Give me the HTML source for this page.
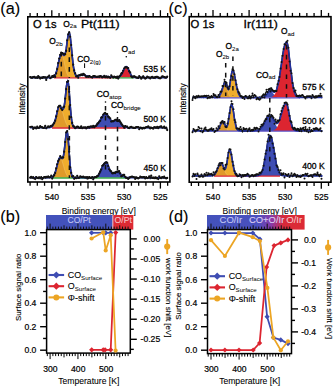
<!DOCTYPE html>
<html><head><meta charset="utf-8"><style>
html,body{margin:0;padding:0;background:#fff;width:335px;height:387px;overflow:hidden;}
svg{display:block;font-family:"Liberation Sans",sans-serif;}
</style></head><body>
<svg width="335" height="387" viewBox="0 0 335 387">
<defs><linearGradient id="gd" x1="207" x2="304.6" y1="0" y2="0" gradientUnits="userSpaceOnUse"><stop offset="0" stop-color="#4352bb"/><stop offset="0.52" stop-color="#4a50bf"/><stop offset="0.66" stop-color="#8a3aa8"/><stop offset="0.78" stop-color="#d82a3a"/><stop offset="1" stop-color="#dd2a33"/></linearGradient></defs><rect width="335" height="387" fill="#fff"/>
<path d="M52.8,77.6 L52.8,77.21 L53.3,76.99 L53.8,76.65 L54.3,76.17 L54.8,75.51 L55.3,74.63 L55.8,73.48 L56.3,72.06 L56.8,70.35 L57.3,68.36 L57.8,66.16 L58.3,63.81 L58.8,61.44 L59.3,59.18 L59.8,57.15 L60.3,55.5 L60.8,54.33 L61.3,53.68 L61.8,53.54 L62.3,53.83 L62.8,54.4 L63.3,55.02 L63.8,55.44 L64.3,55.42 L64.8,54.73 L65.3,53.22 L65.8,50.87 L66.3,47.79 L66.8,44.21 L67.3,40.51 L67.8,37.12 L68.3,34.49 L68.8,33 L69.3,32.9 L69.8,34.38 L70.3,37.37 L70.8,41.57 L71.3,46.58 L71.8,51.92 L72.3,57.17 L72.8,61.98 L73.3,66.12 L73.8,69.5 L74.3,72.11 L74.8,74.02 L75.3,75.36 L75.8,76.25 L76.3,76.82 L76.8,77.17 L76.8,77.6 Z" fill="#efad2d"/>
<path d="M118.7,77.6 L118.7,77.16 L119.2,76.93 L119.7,76.62 L120.2,76.21 L120.7,75.67 L121.2,75.01 L121.7,74.2 L122.2,73.28 L122.7,72.25 L123.2,71.15 L123.7,70.04 L124.2,68.99 L124.7,68.06 L125.2,67.32 L125.7,66.82 L126.2,66.61 L126.7,66.71 L127.2,67.15 L127.7,67.89 L128.2,68.86 L128.7,69.98 L129.2,71.17 L129.7,72.34 L130.2,73.43 L130.7,74.4 L131.2,75.22 L131.7,75.89 L132.2,76.41 L132.7,76.79 L133.2,77.07 L133.2,77.6 Z" fill="#dc2530"/>
<path d="M52.8,77.6 L52.8,77.21 L53.3,76.99 L53.8,76.65 L54.3,76.17 L54.8,75.51 L55.3,74.63 L55.8,73.48 L56.3,72.06 L56.8,70.35 L57.3,68.36 L57.8,66.16 L58.3,63.82 L58.8,61.46 L59.3,59.21 L59.8,57.22 L60.3,55.63 L60.8,54.57 L61.3,54.11 L61.8,54.31 L62.3,55.13 L62.8,56.52 L63.3,58.37 L63.8,60.54 L64.3,62.87 L64.8,65.24 L65.3,67.51 L65.8,69.58 L66.3,71.41 L66.8,72.95 L67.3,74.2 L67.8,75.19 L68.3,75.93 L68.8,76.48 L69.3,76.87 L69.8,77.13 L69.8,77.6 Z" fill="#e09a2a" stroke="#f6d9a0" stroke-width="0.5" stroke-opacity="0.6"/>
<line x1="54" y1="77.9" x2="112" y2="77.9" stroke="#dc2530" stroke-width="1.3"/>
<line x1="112" y1="77.9" x2="134" y2="77.9" stroke="#3aaa48" stroke-width="1.3"/>
<path d="M30.2,76.79 L31.2,77.59 L32.2,77.9 L33.2,77.14 L34.2,76.74 L35.2,77.37 L36.2,77.64 L37.2,77.95 L38.2,76.79 L39.2,76.75 L40.2,77.75 L41.2,77.64 L42.2,78.17 L43.2,77.89 L44.2,77.35 L45.2,77.26 L46.2,78.69 L47.2,77.26 L48.2,77.01 L49.2,76.82 L50.2,77.43 L51.2,77.4 L52.2,77.01 L53.2,76.81 L54.2,76.22 L55.2,74.97 L56.2,72.72 L57.2,68.68 L58.2,63.19 L59.2,59.76 L60.2,54.89 L61.2,53.48 L62.2,52.81 L63.2,54.7 L64.2,54.88 L65.2,53.5 L66.2,49.9 L67.2,41.01 L68.2,35.14 L69.2,31.91 L70.2,36.26 L71.2,45.56 L72.2,55.72 L73.2,65.04 L74.2,71.03 L75.2,73.74 L76.2,75.84 L77.2,75.44 L78.2,76.62 L79.2,75.14 L80.2,75.45 L81.2,74.89 L82.2,75.25 L83.2,74.49 L84.2,75.42 L85.2,75.1 L86.2,76.09 L87.2,76.09 L88.2,76.16 L89.2,75.97 L90.2,76.96 L91.2,76.96 L92.2,77.64 L93.2,76.67 L94.2,77.13 L95.2,77.08 L96.2,76.92 L97.2,76.83 L98.2,76.75 L99.2,76.3 L100.2,76.03 L101.2,76.29 L102.2,76.75 L103.2,77.18 L104.2,76.89 L105.2,76.93 L106.2,76.8 L107.2,76.78 L108.2,76.56 L109.2,76.9 L110.2,77.45 L111.2,76.46 L112.2,76.35 L113.2,77.74 L114.2,76.95 L115.2,77.37 L116.2,77.37 L117.2,76.35 L118.2,78.02 L119.2,77.36 L120.2,75.88 L121.2,75.01 L122.2,73 L123.2,70.4 L124.2,68.65 L125.2,67.24 L126.2,66.91 L127.2,67.27 L128.2,68.66 L129.2,71.62 L130.2,72.84 L131.2,75.41 L132.2,76.75 L133.2,76.72 L134.2,76.3 L135.2,76.87 L136.2,77.5 L137.2,77.66 L138.2,78.17 L139.2,76.9 L140.2,77.4 L141.2,77.72 L142.2,77.32 L143.2,76.22 L144.2,77.8 L145.2,78.56 L146.2,77.9 L147.2,76.94 L148.2,77.19 L149.2,77.51 L150.2,78.64 L151.2,77.71 L152.2,77.46 L153.2,78.18 L154.2,77.36 L155.2,78.33 L156.2,77.06 L157.2,77.16 L158.2,77.76 L159.2,78.11 L160.2,77.73 L161.2,77.55 L162.2,76.49 L163.2,77.04 L164.2,77.09 L165.2,77.13 L166.2,77.69 L167.2,77.23" fill="none" stroke="#111" stroke-width="1.5" stroke-linejoin="round" stroke-linecap="round"/>
<path d="M30.2,77.6 L30.7,77.6 L31.2,77.6 L31.7,77.6 L32.2,77.6 L32.7,77.6 L33.2,77.6 L33.7,77.6 L34.2,77.6 L34.7,77.6 L35.2,77.6 L35.7,77.6 L36.2,77.6 L36.7,77.6 L37.2,77.6 L37.7,77.6 L38.2,77.6 L38.7,77.6 L39.2,77.6 L39.7,77.6 L40.2,77.6 L40.7,77.6 L41.2,77.6 L41.7,77.6 L42.2,77.6 L42.7,77.6 L43.2,77.6 L43.7,77.6 L44.2,77.6 L44.7,77.6 L45.2,77.6 L45.7,77.6 L46.2,77.6 L46.7,77.6 L47.2,77.6 L47.7,77.6 L48.2,77.6 L48.7,77.6 L49.2,77.59 L49.7,77.59 L50.2,77.58 L50.7,77.56 L51.2,77.53 L51.7,77.47 L52.2,77.39 L52.7,77.25 L53.2,77.04 L53.7,76.73 L54.2,76.28 L54.7,75.66 L55.2,74.82 L55.7,73.73 L56.2,72.37 L56.7,70.71 L57.2,68.78 L57.7,66.61 L58.2,64.29 L58.7,61.91 L59.2,59.61 L59.7,57.53 L60.2,55.8 L60.7,54.52 L61.2,53.77 L61.7,53.53 L62.2,53.75 L62.7,54.27 L63.2,54.9 L63.7,55.39 L64.2,55.47 L64.7,54.93 L65.2,53.59 L65.7,51.4 L66.2,48.45 L66.7,44.95 L67.2,41.24 L67.7,37.74 L68.2,34.92 L68.7,33.17 L69.2,32.77 L69.7,33.92 L70.2,36.61 L70.7,40.58 L71.2,45.43 L71.7,50.71 L72.2,55.96 L72.7,60.83 L73.2,65.06 L73.7,68.51 L74.2,71.18 L74.7,73.12 L75.2,74.44 L75.7,75.28 L76.2,75.76 L76.7,75.99 L77.2,76.04 L77.7,76 L78.2,75.89 L78.7,75.75 L79.2,75.59 L79.7,75.44 L80.2,75.3 L80.7,75.18 L81.2,75.08 L81.7,75.01 L82.2,74.97 L82.7,74.97 L83.2,74.99 L83.7,75.04 L84.2,75.13 L84.7,75.23 L85.2,75.36 L85.7,75.5 L86.2,75.66 L86.7,75.82 L87.2,75.98 L87.7,76.14 L88.2,76.29 L88.7,76.44 L89.2,76.56 L89.7,76.68 L90.2,76.78 L90.7,76.86 L91.2,76.93 L91.7,76.98 L92.2,77.02 L92.7,77.04 L93.2,77.06 L93.7,77.06 L94.2,77.06 L94.7,77.04 L95.2,77.03 L95.7,77 L96.2,76.98 L96.7,76.95 L97.2,76.92 L97.7,76.89 L98.2,76.86 L98.7,76.83 L99.2,76.8 L99.7,76.77 L100.2,76.74 L100.7,76.72 L101.2,76.69 L101.7,76.67 L102.2,76.65 L102.7,76.63 L103.2,76.62 L103.7,76.61 L104.2,76.6 L104.7,76.6 L105.2,76.6 L105.7,76.6 L106.2,76.61 L106.7,76.62 L107.2,76.63 L107.7,76.65 L108.2,76.67 L108.7,76.69 L109.2,76.71 L109.7,76.74 L110.2,76.76 L110.7,76.79 L111.2,76.83 L111.7,76.86 L112.2,76.89 L112.7,76.93 L113.2,76.96 L113.7,76.99 L114.2,77.03 L114.7,77.06 L115.2,77.09 L115.7,77.11 L116.2,77.13 L116.7,77.13 L117.2,77.12 L117.7,77.08 L118.2,77 L118.7,76.87 L119.2,76.67 L119.7,76.39 L120.2,75.99 L120.7,75.48 L121.2,74.83 L121.7,74.05 L122.2,73.14 L122.7,72.12 L123.2,71.04 L123.7,69.95 L124.2,68.9 L124.7,67.98 L125.2,67.25 L125.7,66.76 L126.2,66.56 L126.7,66.67 L127.2,67.12 L127.7,67.86 L128.2,68.83 L128.7,69.96 L129.2,71.15 L129.7,72.32 L130.2,73.42 L130.7,74.39 L131.2,75.21 L131.7,75.88 L132.2,76.4 L132.7,76.79 L133.2,77.07 L133.7,77.26 L134.2,77.39 L134.7,77.48 L135.2,77.53 L135.7,77.56 L136.2,77.58 L136.7,77.59 L137.2,77.59 L137.7,77.6 L138.2,77.6 L138.7,77.6 L139.2,77.6 L139.7,77.6 L140.2,77.6 L140.7,77.6 L141.2,77.6 L141.7,77.6 L142.2,77.6 L142.7,77.6 L143.2,77.6 L143.7,77.6 L144.2,77.6 L144.7,77.6 L145.2,77.6 L145.7,77.6 L146.2,77.6 L146.7,77.6 L147.2,77.6 L147.7,77.6 L148.2,77.6 L148.7,77.6 L149.2,77.6 L149.7,77.6 L150.2,77.6 L150.7,77.6 L151.2,77.6 L151.7,77.6 L152.2,77.6 L152.7,77.6 L153.2,77.6 L153.7,77.6 L154.2,77.6 L154.7,77.6 L155.2,77.6 L155.7,77.6 L156.2,77.6 L156.7,77.6 L157.2,77.6 L157.7,77.6 L158.2,77.6 L158.7,77.6 L159.2,77.6 L159.7,77.6 L160.2,77.6 L160.7,77.6 L161.2,77.6 L161.7,77.6 L162.2,77.6 L162.7,77.6 L163.2,77.6 L163.7,77.6 L164.2,77.6 L164.7,77.6 L165.2,77.6 L165.7,77.6 L166.2,77.6 L166.7,77.6 L167.2,77.6" fill="none" stroke="#22309e" stroke-width="1.6"/>
<path d="M30.2,77.22h0.01M31.2,77.63h0.01M32.2,77.71h0.01M33.2,77.21h0.01M34.2,76.97h0.01M35.2,77.84h0.01M36.2,77.38h0.01M37.2,77.82h0.01M38.2,76.04h0.01M39.2,77.64h0.01M40.2,78.55h0.01M41.2,77.54h0.01M42.2,77.9h0.01M43.2,77.21h0.01M44.2,77.44h0.01M45.2,77.38h0.01M46.2,79.89h0.01M47.2,77.39h0.01M48.2,76.58h0.01M49.2,75.48h0.01M50.2,78.2h0.01M51.2,77.5h0.01M52.2,76.13h0.01M53.2,76.91h0.01M54.2,75.33h0.01M55.2,76.88h0.01M56.2,73.33h0.01M57.2,69h0.01M58.2,63.1h0.01M59.2,58.59h0.01M60.2,54.82h0.01M61.2,52.62h0.01M62.2,53.14h0.01M63.2,53.53h0.01M64.2,54.38h0.01M65.2,54.17h0.01M66.2,50.8h0.01M67.2,40.36h0.01M68.2,34.3h0.01M69.2,32.39h0.01M70.2,36.73h0.01M71.2,45.02h0.01M72.2,55.33h0.01M73.2,64.66h0.01M74.2,70.37h0.01M75.2,73.36h0.01M76.2,76.53h0.01M77.2,75.82h0.01M78.2,77.75h0.01M79.2,75.09h0.01M80.2,75.37h0.01M81.2,74.35h0.01M82.2,75.18h0.01M83.2,73.77h0.01M84.2,74.45h0.01M85.2,75.48h0.01M86.2,76.88h0.01M87.2,76.55h0.01M88.2,76.9h0.01M89.2,76.11h0.01M90.2,76.57h0.01M91.2,77.01h0.01M92.2,77.43h0.01M93.2,76.06h0.01M94.2,76.2h0.01M95.2,76.27h0.01M96.2,76.92h0.01M97.2,76.91h0.01M98.2,76.49h0.01M99.2,77.09h0.01M100.2,76.13h0.01M101.2,76.61h0.01M102.2,77.42h0.01M103.2,76.73h0.01M104.2,75.81h0.01M105.2,77.34h0.01M106.2,76.42h0.01M107.2,77.5h0.01M108.2,76.74h0.01M109.2,77.45h0.01M110.2,77.87h0.01M111.2,75.32h0.01M112.2,76.74h0.01M113.2,77.37h0.01M114.2,76.53h0.01M115.2,77.13h0.01M116.2,77.79h0.01M117.2,76.84h0.01M118.2,78.57h0.01M119.2,76.45h0.01M120.2,75.56h0.01M121.2,73.7h0.01M122.2,72.94h0.01M123.2,70.73h0.01M124.2,68.23h0.01M125.2,67.37h0.01M126.2,67.04h0.01M127.2,67.83h0.01M128.2,68.21h0.01M129.2,71.17h0.01M130.2,72.42h0.01M131.2,76.37h0.01M132.2,77.35h0.01M133.2,76.65h0.01M134.2,76.42h0.01M135.2,76.94h0.01M136.2,77.61h0.01M137.2,77.54h0.01M138.2,77.99h0.01M139.2,76.21h0.01M140.2,77.05h0.01M141.2,78.63h0.01M142.2,77.62h0.01M143.2,76.25h0.01M144.2,77.69h0.01M145.2,78.59h0.01M146.2,78.1h0.01M147.2,76.59h0.01M148.2,77.3h0.01M149.2,77.64h0.01M150.2,78.23h0.01M151.2,77.27h0.01M152.2,76.91h0.01M153.2,77.59h0.01M154.2,77.85h0.01M155.2,77.03h0.01M156.2,76.91h0.01M157.2,76.83h0.01M158.2,77.42h0.01M159.2,78.17h0.01M160.2,78.35h0.01M161.2,77.59h0.01M162.2,76.41h0.01M163.2,76.71h0.01M164.2,77.02h0.01M165.2,77.63h0.01M166.2,77.48h0.01M167.2,76.6h0.01" fill="none" stroke="#111" stroke-width="2.2" stroke-linecap="round"/>
<path d="M50.96,127.7 L50.96,127.18 L51.46,126.92 L51.96,126.55 L52.46,126.04 L52.96,125.36 L53.46,124.49 L53.96,123.4 L54.46,122.07 L54.96,120.52 L55.46,118.76 L55.96,116.84 L56.46,114.82 L56.96,112.8 L57.46,110.87 L57.96,109.15 L58.46,107.75 L58.96,106.75 L59.46,106.23 L59.96,106.18 L60.46,106.5 L60.96,107.12 L61.46,107.91 L61.96,108.72 L62.46,109.31 L62.96,109.43 L63.46,108.81 L63.96,107.22 L64.46,104.52 L64.96,100.75 L65.46,96.16 L65.96,91.24 L66.46,86.63 L66.96,83.05 L67.46,81.13 L67.96,81.3 L68.46,83.97 L68.96,88.88 L69.46,95.27 L69.96,102.21 L70.46,108.87 L70.96,114.62 L71.46,119.16 L71.96,122.46 L72.46,124.68 L72.96,126.06 L73.46,126.86 L73.96,127.3 L73.96,127.7 Z" fill="#efad2d"/>
<path d="M92.1,127.7 L92.1,127.34 L92.6,127.24 L93.1,127.1 L93.6,126.94 L94.1,126.73 L94.6,126.49 L95.1,126.2 L95.6,125.86 L96.1,125.46 L96.6,125.01 L97.1,124.49 L97.6,123.92 L98.1,123.28 L98.6,122.6 L99.1,121.86 L99.6,121.08 L100.1,120.27 L100.6,119.45 L101.1,118.63 L101.6,117.82 L102.1,117.05 L102.6,116.34 L103.1,115.69 L103.6,115.14 L104.1,114.68 L104.6,114.35 L105.1,114.13 L105.6,114.05 L106.1,114.13 L106.6,114.4 L107.1,114.86 L107.6,115.46 L108.1,116.18 L108.6,116.98 L109.1,117.81 L109.6,118.63 L110.1,119.41 L110.6,120.1 L111.1,120.68 L111.6,121.13 L112.1,121.44 L112.6,121.6 L113.1,121.64 L113.6,121.55 L114.1,121.37 L114.6,121.13 L115.1,120.85 L115.6,120.57 L116.1,120.33 L116.6,120.15 L117.1,120.05 L117.6,120.05 L118.1,120.19 L118.6,120.49 L119.1,120.93 L119.6,121.5 L120.1,122.15 L120.6,122.86 L121.1,123.57 L121.6,124.26 L122.1,124.91 L122.6,125.49 L123.1,125.99 L123.6,126.41 L124.1,126.75 L124.6,127.01 L125.1,127.22 L125.1,127.7 Z" fill="#3f4db3"/>
<path d="M50.96,127.7 L50.96,127.18 L51.46,126.92 L51.96,126.55 L52.46,126.04 L52.96,125.36 L53.46,124.49 L53.96,123.4 L54.46,122.07 L54.96,120.52 L55.46,118.76 L55.96,116.84 L56.46,114.82 L56.96,112.8 L57.46,110.87 L57.96,109.15 L58.46,107.76 L58.96,106.77 L59.46,106.26 L59.96,106.26 L60.46,106.67 L60.96,107.48 L61.46,108.62 L61.96,110.05 L62.46,111.67 L62.96,113.43 L63.46,115.24 L63.96,117.02 L64.46,118.73 L64.96,120.31 L65.46,121.72 L65.96,122.96 L66.46,124.01 L66.96,124.89 L67.46,125.59 L67.96,126.15 L68.46,126.59 L68.96,126.91 L69.46,127.16 L69.96,127.33 L69.96,127.7 Z" fill="#e09a2a" stroke="#f6d9a0" stroke-width="0.5" stroke-opacity="0.6"/>
<line x1="52" y1="128" x2="126" y2="128" stroke="#dc2530" stroke-width="1.3"/>
<path d="M30.2,126.87 L31.2,126.95 L32.2,126.81 L33.2,128.05 L34.2,127.68 L35.2,127.38 L36.2,128.23 L37.2,127.17 L38.2,127.88 L39.2,127.9 L40.2,126.73 L41.2,126.72 L42.2,127.04 L43.2,127.95 L44.2,128.15 L45.2,126.89 L46.2,128.02 L47.2,127.3 L48.2,127.27 L49.2,127.13 L50.2,127.08 L51.2,125.96 L52.2,125.62 L53.2,124.15 L54.2,122.84 L55.2,120.55 L56.2,117.04 L57.2,111.49 L58.2,107.37 L59.2,106.04 L60.2,105.62 L61.2,108.28 L62.2,109.13 L63.2,108.68 L64.2,106.33 L65.2,98.69 L66.2,87.93 L67.2,81.42 L68.2,81.95 L69.2,91.63 L70.2,105.36 L71.2,116.59 L72.2,123.54 L73.2,126.01 L74.2,126.78 L75.2,128.21 L76.2,127.67 L77.2,127.72 L78.2,126.7 L79.2,127.42 L80.2,127.91 L81.2,126.85 L82.2,128.05 L83.2,127.3 L84.2,127.7 L85.2,127.43 L86.2,127.6 L87.2,128.09 L88.2,127.27 L89.2,128.22 L90.2,126.99 L91.2,126.82 L92.2,127.48 L93.2,126.34 L94.2,126.3 L95.2,126.39 L96.2,125.78 L97.2,123.3 L98.2,123.2 L99.2,122.45 L100.2,120.51 L101.2,118.15 L102.2,116.4 L103.2,115.23 L104.2,113.83 L105.2,113.77 L106.2,113.88 L107.2,114.7 L108.2,116.73 L109.2,117.66 L110.2,118.62 L111.2,121.11 L112.2,120.74 L113.2,121.2 L114.2,121.06 L115.2,120.42 L116.2,119.58 L117.2,119.71 L118.2,121.13 L119.2,120.54 L120.2,122.02 L121.2,124.07 L122.2,125.2 L123.2,126.26 L124.2,127.04 L125.2,126.07 L126.2,126.87 L127.2,127.48 L128.2,127.72 L129.2,128.14 L130.2,127.73 L131.2,127.38 L132.2,127.52 L133.2,127.39 L134.2,127.62 L135.2,127.84 L136.2,127.33 L137.2,127.09 L138.2,127.07 L139.2,128.05 L140.2,128.14 L141.2,128 L142.2,127.93 L143.2,127.92 L144.2,127.5 L145.2,127.83 L146.2,126.97 L147.2,127.4 L148.2,127.13 L149.2,127.86 L150.2,127.21 L151.2,127.45 L152.2,127.7 L153.2,128.18 L154.2,127.1 L155.2,127.03 L156.2,127.91 L157.2,126.95 L158.2,127.73 L159.2,127.21 L160.2,127.45 L161.2,126.59 L162.2,127.86 L163.2,127.25 L164.2,127.05 L165.2,128.54 L166.2,127.86 L167.2,129.25" fill="none" stroke="#111" stroke-width="1.5" stroke-linejoin="round" stroke-linecap="round"/>
<path d="M30.2,127.7 L30.7,127.7 L31.2,127.7 L31.7,127.7 L32.2,127.7 L32.7,127.7 L33.2,127.7 L33.7,127.7 L34.2,127.7 L34.7,127.7 L35.2,127.7 L35.7,127.7 L36.2,127.7 L36.7,127.7 L37.2,127.7 L37.7,127.7 L38.2,127.7 L38.7,127.7 L39.2,127.7 L39.7,127.7 L40.2,127.7 L40.7,127.7 L41.2,127.7 L41.7,127.7 L42.2,127.7 L42.7,127.7 L43.2,127.7 L43.7,127.7 L44.2,127.7 L44.7,127.7 L45.2,127.7 L45.7,127.7 L46.2,127.7 L46.7,127.69 L47.2,127.69 L47.7,127.68 L48.2,127.67 L48.7,127.64 L49.2,127.6 L49.7,127.54 L50.2,127.44 L50.7,127.29 L51.2,127.07 L51.7,126.76 L52.2,126.32 L52.7,125.74 L53.2,124.97 L53.7,123.99 L54.2,122.79 L54.7,121.36 L55.2,119.7 L55.7,117.86 L56.2,115.88 L56.7,113.85 L57.2,111.85 L57.7,110.01 L58.2,108.43 L58.7,107.22 L59.2,106.44 L59.7,106.15 L60.2,106.29 L60.7,106.77 L61.2,107.49 L61.7,108.31 L62.2,109.04 L62.7,109.44 L63.2,109.24 L63.7,108.18 L64.2,106.06 L64.7,102.83 L65.2,98.62 L65.7,93.81 L66.2,88.94 L66.7,84.74 L67.2,81.89 L67.7,80.93 L68.2,82.27 L68.7,86.09 L69.2,91.82 L69.7,98.59 L70.2,105.49 L70.7,111.77 L71.2,116.96 L71.7,120.89 L72.2,123.65 L72.7,125.43 L73.2,126.51 L73.7,127.11 L74.2,127.42 L74.7,127.58 L75.2,127.65 L75.7,127.68 L76.2,127.69 L76.7,127.7 L77.2,127.7 L77.7,127.7 L78.2,127.7 L78.7,127.7 L79.2,127.7 L79.7,127.7 L80.2,127.7 L80.7,127.7 L81.2,127.7 L81.7,127.7 L82.2,127.7 L82.7,127.7 L83.2,127.7 L83.7,127.7 L84.2,127.7 L84.7,127.7 L85.2,127.7 L85.7,127.7 L86.2,127.69 L86.7,127.69 L87.2,127.68 L87.7,127.68 L88.2,127.67 L88.7,127.66 L89.2,127.64 L89.7,127.61 L90.2,127.58 L90.7,127.54 L91.2,127.49 L91.7,127.41 L92.2,127.33 L92.7,127.21 L93.2,127.07 L93.7,126.9 L94.2,126.69 L94.7,126.44 L95.2,126.14 L95.7,125.78 L96.2,125.38 L96.7,124.91 L97.2,124.38 L97.7,123.8 L98.2,123.15 L98.7,122.45 L99.2,121.71 L99.7,120.92 L100.2,120.11 L100.7,119.29 L101.2,118.47 L101.7,117.67 L102.2,116.91 L102.7,116.2 L103.2,115.57 L103.7,115.04 L104.2,114.61 L104.7,114.29 L105.2,114.11 L105.7,114.05 L106.2,114.17 L106.7,114.48 L107.2,114.97 L107.7,115.6 L108.2,116.34 L108.7,117.15 L109.2,117.98 L109.7,118.79 L110.2,119.55 L110.7,120.22 L111.2,120.78 L111.7,121.2 L112.2,121.48 L112.7,121.62 L113.2,121.63 L113.7,121.52 L114.2,121.33 L114.7,121.07 L115.2,120.79 L115.7,120.52 L116.2,120.29 L116.7,120.12 L117.2,120.04 L117.7,120.06 L118.2,120.24 L118.7,120.57 L119.2,121.04 L119.7,121.63 L120.2,122.29 L120.7,123 L121.2,123.71 L121.7,124.4 L122.2,125.03 L122.7,125.59 L123.2,126.08 L123.7,126.48 L124.2,126.81 L124.7,127.06 L125.2,127.25 L125.7,127.4 L126.2,127.5 L126.7,127.57 L127.2,127.62 L127.7,127.65 L128.2,127.67 L128.7,127.68 L129.2,127.69 L129.7,127.69 L130.2,127.7 L130.7,127.7 L131.2,127.7 L131.7,127.7 L132.2,127.7 L132.7,127.7 L133.2,127.7 L133.7,127.7 L134.2,127.7 L134.7,127.7 L135.2,127.7 L135.7,127.7 L136.2,127.7 L136.7,127.7 L137.2,127.7 L137.7,127.7 L138.2,127.7 L138.7,127.7 L139.2,127.7 L139.7,127.7 L140.2,127.7 L140.7,127.7 L141.2,127.7 L141.7,127.7 L142.2,127.7 L142.7,127.7 L143.2,127.7 L143.7,127.7 L144.2,127.7 L144.7,127.7 L145.2,127.7 L145.7,127.7 L146.2,127.7 L146.7,127.7 L147.2,127.7 L147.7,127.7 L148.2,127.7 L148.7,127.7 L149.2,127.7 L149.7,127.7 L150.2,127.7 L150.7,127.7 L151.2,127.7 L151.7,127.7 L152.2,127.7 L152.7,127.7 L153.2,127.7 L153.7,127.7 L154.2,127.7 L154.7,127.7 L155.2,127.7 L155.7,127.7 L156.2,127.7 L156.7,127.7 L157.2,127.7 L157.7,127.7 L158.2,127.7 L158.7,127.7 L159.2,127.7 L159.7,127.7 L160.2,127.7 L160.7,127.7 L161.2,127.7 L161.7,127.7 L162.2,127.7 L162.7,127.7 L163.2,127.7 L163.7,127.7 L164.2,127.7 L164.7,127.7 L165.2,127.7 L165.7,127.7 L166.2,127.7 L166.7,127.7 L167.2,127.7" fill="none" stroke="#22309e" stroke-width="1.6"/>
<path d="M30.2,127.09h0.01M31.2,126.76h0.01M32.2,126.86h0.01M33.2,128.93h0.01M34.2,127.66h0.01M35.2,127.63h0.01M36.2,128.51h0.01M37.2,126.67h0.01M38.2,127.95h0.01M39.2,127.62h0.01M40.2,126.04h0.01M41.2,127.2h0.01M42.2,127.4h0.01M43.2,127.99h0.01M44.2,127.65h0.01M45.2,125.78h0.01M46.2,128.29h0.01M47.2,127.24h0.01M48.2,126.34h0.01M49.2,127.09h0.01M50.2,126.24h0.01M51.2,125.94h0.01M52.2,125.7h0.01M53.2,124.35h0.01M54.2,122.96h0.01M55.2,120.64h0.01M56.2,116.42h0.01M57.2,111.27h0.01M58.2,107.09h0.01M59.2,105.91h0.01M60.2,105.77h0.01M61.2,108.62h0.01M62.2,110.03h0.01M63.2,107.26h0.01M64.2,106.55h0.01M65.2,98.58h0.01M66.2,89.18h0.01M67.2,81.94h0.01M68.2,81.04h0.01M69.2,91.85h0.01M70.2,105.07h0.01M71.2,117.14h0.01M72.2,122.96h0.01M73.2,125.96h0.01M74.2,126.7h0.01M75.2,128.15h0.01M76.2,127.35h0.01M77.2,126.71h0.01M78.2,126.96h0.01M79.2,127.97h0.01M80.2,127.87h0.01M81.2,126.29h0.01M82.2,128.16h0.01M83.2,127.62h0.01M84.2,127.6h0.01M85.2,127.42h0.01M86.2,128.38h0.01M87.2,127.47h0.01M88.2,126.96h0.01M89.2,127.17h0.01M90.2,126.61h0.01M91.2,126.41h0.01M92.2,126.95h0.01M93.2,125.96h0.01M94.2,127.29h0.01M95.2,126.28h0.01M96.2,125.72h0.01M97.2,124.51h0.01M98.2,123.17h0.01M99.2,121.49h0.01M100.2,120.73h0.01M101.2,117.63h0.01M102.2,117.31h0.01M103.2,114.54h0.01M104.2,113.51h0.01M105.2,112.89h0.01M106.2,113.93h0.01M107.2,114.14h0.01M108.2,116.69h0.01M109.2,117.46h0.01M110.2,118.29h0.01M111.2,121.62h0.01M112.2,121.26h0.01M113.2,121.24h0.01M114.2,120.56h0.01M115.2,119.83h0.01M116.2,119.73h0.01M117.2,121.03h0.01M118.2,120.88h0.01M119.2,120.1h0.01M120.2,121.64h0.01M121.2,123.47h0.01M122.2,124.67h0.01M123.2,126.15h0.01M124.2,127.83h0.01M125.2,126.07h0.01M126.2,126.58h0.01M127.2,126.59h0.01M128.2,127.84h0.01M129.2,128.12h0.01M130.2,127.06h0.01M131.2,126.78h0.01M132.2,127.5h0.01M133.2,127.95h0.01M134.2,127.97h0.01M135.2,127.95h0.01M136.2,127.15h0.01M137.2,127.27h0.01M138.2,127.07h0.01M139.2,129.24h0.01M140.2,127.52h0.01M141.2,127.79h0.01M142.2,128.63h0.01M143.2,127.77h0.01M144.2,128.28h0.01M145.2,127.81h0.01M146.2,127.05h0.01M147.2,127.19h0.01M148.2,126.37h0.01M149.2,127.33h0.01M150.2,128.43h0.01M151.2,127.8h0.01M152.2,128.03h0.01M153.2,128.7h0.01M154.2,127.42h0.01M155.2,127.59h0.01M156.2,127.76h0.01M157.2,126.82h0.01M158.2,128.27h0.01M159.2,127.02h0.01M160.2,126.72h0.01M161.2,126.47h0.01M162.2,127.56h0.01M163.2,127.59h0.01M164.2,126.65h0.01M165.2,127.95h0.01M166.2,127.67h0.01M167.2,130.11h0.01" fill="none" stroke="#111" stroke-width="2.2" stroke-linecap="round"/>
<path d="M52.22,177.7 L52.22,177.15 L52.72,176.84 L53.22,176.4 L53.72,175.78 L54.22,174.96 L54.72,173.89 L55.22,172.56 L55.72,170.97 L56.22,169.15 L56.72,167.15 L57.22,165.07 L57.72,163.02 L58.22,161.13 L58.72,159.54 L59.22,158.37 L59.72,157.7 L60.22,157.54 L60.72,157.71 L61.22,158.07 L61.72,158.45 L62.22,158.58 L62.72,158.18 L63.22,156.94 L63.72,154.66 L64.22,151.26 L64.72,146.92 L65.22,142.07 L65.72,137.39 L66.22,133.65 L66.72,131.58 L67.22,131.69 L67.72,134.46 L68.22,139.64 L68.72,146.36 L69.22,153.58 L69.72,160.36 L70.22,166.06 L70.72,170.4 L71.22,173.42 L71.72,175.36 L72.22,176.5 L72.72,177.13 L72.72,177.7 Z" fill="#efad2d"/>
<path d="M95,177.7 L95,177.3 L95.5,177.14 L96,176.94 L96.5,176.67 L97,176.34 L97.5,175.92 L98,175.41 L98.5,174.81 L99,174.09 L99.5,173.27 L100,172.35 L100.5,171.34 L101,170.25 L101.5,169.11 L102,167.96 L102.5,166.81 L103,165.72 L103.5,164.73 L104,163.87 L104.5,163.18 L105,162.68 L105.5,162.41 L106,162.38 L106.5,162.69 L107,163.33 L107.5,164.25 L108,165.38 L108.5,166.65 L109,167.95 L109.5,169.22 L110,170.39 L110.5,171.39 L111,172.2 L111.5,172.79 L112,173.17 L112.5,173.36 L113,173.38 L113.5,173.26 L114,173.06 L114.5,172.81 L115,172.55 L115.5,172.32 L116,172.15 L116.5,172.06 L117,172.07 L117.5,172.18 L118,172.36 L118.5,172.63 L119,172.96 L119.5,173.35 L120,173.77 L120.5,174.21 L121,174.66 L121.5,175.09 L122,175.5 L122.5,175.88 L123,176.22 L123.5,176.52 L124,176.77 L124.5,176.98 L125,177.15 L125.5,177.29 L125.5,177.7 Z" fill="#3f4db3"/>
<path d="M52.22,177.7 L52.22,177.15 L52.72,176.84 L53.22,176.4 L53.72,175.78 L54.22,174.96 L54.72,173.89 L55.22,172.56 L55.72,170.97 L56.22,169.15 L56.72,167.15 L57.22,165.07 L57.72,163.02 L58.22,161.13 L58.72,159.56 L59.22,158.41 L59.72,157.79 L60.22,157.74 L60.72,158.14 L61.22,158.95 L61.72,160.1 L62.22,161.54 L62.72,163.18 L63.22,164.93 L63.72,166.71 L64.22,168.44 L64.72,170.07 L65.22,171.55 L65.72,172.84 L66.22,173.95 L66.72,174.86 L67.22,175.6 L67.72,176.18 L68.22,176.62 L68.72,176.95 L69.22,177.19 L69.22,177.7 Z" fill="#e09a2a" stroke="#f6d9a0" stroke-width="0.5" stroke-opacity="0.6"/>
<line x1="52" y1="178" x2="128" y2="178" stroke="#3aaa48" stroke-width="1.3"/>
<path d="M30.2,177.48 L31.2,177.58 L32.2,177.5 L33.2,177.65 L34.2,177.96 L35.2,178.2 L36.2,176.68 L37.2,178.18 L38.2,177.5 L39.2,177.34 L40.2,178.7 L41.2,177.42 L42.2,178.47 L43.2,177.98 L44.2,176.99 L45.2,177.74 L46.2,177.87 L47.2,177.44 L48.2,176.33 L49.2,177.31 L50.2,177.34 L51.2,176.75 L52.2,177.88 L53.2,176.1 L54.2,174.6 L55.2,172.27 L56.2,168.63 L57.2,164.56 L58.2,161.05 L59.2,158.37 L60.2,157.08 L61.2,157.81 L62.2,157.69 L63.2,157.07 L64.2,150.84 L65.2,142.18 L66.2,133.11 L67.2,131.18 L68.2,139.31 L69.2,152.49 L70.2,166.89 L71.2,173.11 L72.2,176.23 L73.2,176.87 L74.2,178.25 L75.2,178.19 L76.2,177.65 L77.2,176.82 L78.2,177.25 L79.2,177.81 L80.2,177.24 L81.2,176.91 L82.2,176.91 L83.2,177.11 L84.2,177.51 L85.2,177.18 L86.2,177.51 L87.2,178.9 L88.2,178.39 L89.2,176.98 L90.2,177.66 L91.2,177.52 L92.2,177.38 L93.2,177.91 L94.2,177.11 L95.2,176.88 L96.2,176.45 L97.2,175.93 L98.2,175.63 L99.2,173.97 L100.2,171.09 L101.2,169.38 L102.2,166.9 L103.2,165.52 L104.2,163.48 L105.2,162.79 L106.2,162.23 L107.2,162.51 L108.2,165.9 L109.2,168.38 L110.2,170.86 L111.2,171.61 L112.2,173.11 L113.2,172.8 L114.2,172.42 L115.2,172.43 L116.2,172.08 L117.2,171.46 L118.2,171.4 L119.2,171.67 L120.2,173.46 L121.2,175.2 L122.2,175.43 L123.2,175.02 L124.2,176.23 L125.2,177.22 L126.2,178.07 L127.2,177.95 L128.2,177.62 L129.2,177.57 L130.2,176.96 L131.2,177.27 L132.2,177.33 L133.2,177.11 L134.2,177.53 L135.2,177.3 L136.2,177.67 L137.2,178.22 L138.2,177.87 L139.2,177.71 L140.2,177.38 L141.2,176.74 L142.2,177.44 L143.2,177.77 L144.2,177 L145.2,178.13 L146.2,177.33 L147.2,177.69 L148.2,177.34 L149.2,176.87 L150.2,178.53 L151.2,176.92 L152.2,177.96 L153.2,177.22 L154.2,177.64 L155.2,177.1 L156.2,177.29 L157.2,177.96 L158.2,178.47 L159.2,177.08 L160.2,177.51 L161.2,177.97 L162.2,177.18 L163.2,177.86 L164.2,177.11 L165.2,177.8 L166.2,177.72 L167.2,178.11" fill="none" stroke="#111" stroke-width="1.5" stroke-linejoin="round" stroke-linecap="round"/>
<path d="M30.2,177.7 L30.7,177.7 L31.2,177.7 L31.7,177.7 L32.2,177.7 L32.7,177.7 L33.2,177.7 L33.7,177.7 L34.2,177.7 L34.7,177.7 L35.2,177.7 L35.7,177.7 L36.2,177.7 L36.7,177.7 L37.2,177.7 L37.7,177.7 L38.2,177.7 L38.7,177.7 L39.2,177.7 L39.7,177.7 L40.2,177.7 L40.7,177.7 L41.2,177.7 L41.7,177.7 L42.2,177.7 L42.7,177.7 L43.2,177.7 L43.7,177.7 L44.2,177.7 L44.7,177.7 L45.2,177.7 L45.7,177.7 L46.2,177.7 L46.7,177.7 L47.2,177.7 L47.7,177.7 L48.2,177.69 L48.7,177.69 L49.2,177.68 L49.7,177.66 L50.2,177.63 L50.7,177.58 L51.2,177.5 L51.7,177.37 L52.2,177.16 L52.7,176.86 L53.2,176.42 L53.7,175.81 L54.2,174.99 L54.7,173.94 L55.2,172.62 L55.7,171.04 L56.2,169.22 L56.7,167.23 L57.2,165.15 L57.7,163.1 L58.2,161.2 L58.7,159.6 L59.2,158.41 L59.7,157.72 L60.2,157.54 L60.7,157.7 L61.2,158.06 L61.7,158.44 L62.2,158.59 L62.7,158.21 L63.2,157.01 L63.7,154.77 L64.2,151.42 L64.7,147.11 L65.2,142.27 L65.7,137.56 L66.2,133.77 L66.7,131.62 L67.2,131.64 L67.7,134.3 L68.2,139.4 L68.7,146.08 L69.2,153.3 L69.7,160.11 L70.2,165.85 L70.7,170.25 L71.2,173.32 L71.7,175.3 L72.2,176.47 L72.7,177.11 L73.2,177.44 L73.7,177.59 L74.2,177.66 L74.7,177.68 L75.2,177.69 L75.7,177.7 L76.2,177.7 L76.7,177.7 L77.2,177.7 L77.7,177.7 L78.2,177.7 L78.7,177.7 L79.2,177.7 L79.7,177.7 L80.2,177.7 L80.7,177.7 L81.2,177.7 L81.7,177.7 L82.2,177.7 L82.7,177.7 L83.2,177.7 L83.7,177.7 L84.2,177.7 L84.7,177.7 L85.2,177.7 L85.7,177.7 L86.2,177.7 L86.7,177.7 L87.2,177.7 L87.7,177.7 L88.2,177.7 L88.7,177.7 L89.2,177.7 L89.7,177.7 L90.2,177.69 L90.7,177.69 L91.2,177.68 L91.7,177.67 L92.2,177.65 L92.7,177.63 L93.2,177.59 L93.7,177.54 L94.2,177.47 L94.7,177.37 L95.2,177.24 L95.7,177.07 L96.2,176.84 L96.7,176.55 L97.2,176.18 L97.7,175.73 L98.2,175.18 L98.7,174.53 L99.2,173.78 L99.7,172.92 L100.2,171.96 L100.7,170.91 L101.2,169.8 L101.7,168.65 L102.2,167.49 L102.7,166.37 L103.2,165.31 L103.7,164.36 L104.2,163.57 L104.7,162.95 L105.2,162.55 L105.7,162.37 L106.2,162.46 L106.7,162.91 L107.2,163.67 L107.7,164.68 L108.2,165.88 L108.7,167.17 L109.2,168.47 L109.7,169.7 L110.2,170.81 L110.7,171.74 L111.2,172.46 L111.7,172.97 L112.2,173.27 L112.7,173.38 L113.2,173.34 L113.7,173.19 L114.2,172.96 L114.7,172.7 L115.2,172.45 L115.7,172.24 L116.2,172.1 L116.7,172.06 L117.2,172.1 L117.7,172.24 L118.2,172.46 L118.7,172.75 L119.2,173.11 L119.7,173.51 L120.2,173.95 L120.7,174.39 L121.2,174.84 L121.7,175.26 L122.2,175.66 L122.7,176.02 L123.2,176.34 L123.7,176.62 L124.2,176.86 L124.7,177.05 L125.2,177.21 L125.7,177.34 L126.2,177.44 L126.7,177.51 L127.2,177.57 L127.7,177.61 L128.2,177.64 L128.7,177.66 L129.2,177.67 L129.7,177.68 L130.2,177.69 L130.7,177.69 L131.2,177.7 L131.7,177.7 L132.2,177.7 L132.7,177.7 L133.2,177.7 L133.7,177.7 L134.2,177.7 L134.7,177.7 L135.2,177.7 L135.7,177.7 L136.2,177.7 L136.7,177.7 L137.2,177.7 L137.7,177.7 L138.2,177.7 L138.7,177.7 L139.2,177.7 L139.7,177.7 L140.2,177.7 L140.7,177.7 L141.2,177.7 L141.7,177.7 L142.2,177.7 L142.7,177.7 L143.2,177.7 L143.7,177.7 L144.2,177.7 L144.7,177.7 L145.2,177.7 L145.7,177.7 L146.2,177.7 L146.7,177.7 L147.2,177.7 L147.7,177.7 L148.2,177.7 L148.7,177.7 L149.2,177.7 L149.7,177.7 L150.2,177.7 L150.7,177.7 L151.2,177.7 L151.7,177.7 L152.2,177.7 L152.7,177.7 L153.2,177.7 L153.7,177.7 L154.2,177.7 L154.7,177.7 L155.2,177.7 L155.7,177.7 L156.2,177.7 L156.7,177.7 L157.2,177.7 L157.7,177.7 L158.2,177.7 L158.7,177.7 L159.2,177.7 L159.7,177.7 L160.2,177.7 L160.7,177.7 L161.2,177.7 L161.7,177.7 L162.2,177.7 L162.7,177.7 L163.2,177.7 L163.7,177.7 L164.2,177.7 L164.7,177.7 L165.2,177.7 L165.7,177.7 L166.2,177.7 L166.7,177.7 L167.2,177.7" fill="none" stroke="#22309e" stroke-width="1.6"/>
<path d="M30.2,177.68h0.01M31.2,176.92h0.01M32.2,177.87h0.01M33.2,177.04h0.01M34.2,178.38h0.01M35.2,179.03h0.01M36.2,177.01h0.01M37.2,177.88h0.01M38.2,178.15h0.01M39.2,177.43h0.01M40.2,178.01h0.01M41.2,177.22h0.01M42.2,179.25h0.01M43.2,177.82h0.01M44.2,177.05h0.01M45.2,177.56h0.01M46.2,176.94h0.01M47.2,177.16h0.01M48.2,176.53h0.01M49.2,177.42h0.01M50.2,177.24h0.01M51.2,175.57h0.01M52.2,178.55h0.01M53.2,176.49h0.01M54.2,175.16h0.01M55.2,172.98h0.01M56.2,168.39h0.01M57.2,164.23h0.01M58.2,161.22h0.01M59.2,159.29h0.01M60.2,156.15h0.01M61.2,157.69h0.01M62.2,157.3h0.01M63.2,157.38h0.01M64.2,151.65h0.01M65.2,142.01h0.01M66.2,132.43h0.01M67.2,131.21h0.01M68.2,139.15h0.01M69.2,151.64h0.01M70.2,167.37h0.01M71.2,172.82h0.01M72.2,176.61h0.01M73.2,176.14h0.01M74.2,178.86h0.01M75.2,177.39h0.01M76.2,178.23h0.01M77.2,175.82h0.01M78.2,178.01h0.01M79.2,177.6h0.01M80.2,176.39h0.01M81.2,176.78h0.01M82.2,177.09h0.01M83.2,176.57h0.01M84.2,177.24h0.01M85.2,177.32h0.01M86.2,177.42h0.01M87.2,177.21h0.01M88.2,178.15h0.01M89.2,177.21h0.01M90.2,177.83h0.01M91.2,178.08h0.01M92.2,177h0.01M93.2,179.32h0.01M94.2,177.55h0.01M95.2,177.05h0.01M96.2,177.05h0.01M97.2,176.46h0.01M98.2,175.68h0.01M99.2,173.62h0.01M100.2,171.65h0.01M101.2,169.61h0.01M102.2,165.85h0.01M103.2,164.91h0.01M104.2,163.74h0.01M105.2,162.85h0.01M106.2,162.38h0.01M107.2,162.86h0.01M108.2,165.98h0.01M109.2,169.25h0.01M110.2,170.54h0.01M111.2,171.39h0.01M112.2,173.29h0.01M113.2,173.21h0.01M114.2,172.85h0.01M115.2,173.25h0.01M116.2,171.82h0.01M117.2,172.1h0.01M118.2,171.66h0.01M119.2,171.1h0.01M120.2,173.38h0.01M121.2,176.34h0.01M122.2,175.86h0.01M123.2,174.76h0.01M124.2,174.91h0.01M125.2,176.82h0.01M126.2,177.69h0.01M127.2,177.99h0.01M128.2,178.89h0.01M129.2,177.98h0.01M130.2,177.13h0.01M131.2,176.76h0.01M132.2,176.68h0.01M133.2,177h0.01M134.2,177.27h0.01M135.2,178.96h0.01M136.2,177.45h0.01M137.2,177.88h0.01M138.2,178.49h0.01M139.2,177.75h0.01M140.2,176.7h0.01M141.2,177.45h0.01M142.2,177.27h0.01M143.2,177.04h0.01M144.2,177.17h0.01M145.2,178.4h0.01M146.2,177.15h0.01M147.2,178.07h0.01M148.2,177.79h0.01M149.2,176.39h0.01M150.2,177.4h0.01M151.2,175.6h0.01M152.2,177.89h0.01M153.2,177.9h0.01M154.2,178.19h0.01M155.2,177.86h0.01M156.2,178.31h0.01M157.2,177.97h0.01M158.2,179.05h0.01M159.2,176.24h0.01M160.2,177.88h0.01M161.2,178.19h0.01M162.2,177.13h0.01M163.2,177.61h0.01M164.2,176.49h0.01M165.2,177.88h0.01M166.2,178.42h0.01M167.2,177.9h0.01" fill="none" stroke="#111" stroke-width="2.2" stroke-linecap="round"/>
<rect x="27.8" y="16.8" width="142.1" height="165.2" fill="none" stroke="#000" stroke-width="1.6"/>
<line x1="167.64" y1="16.8" x2="167.64" y2="13" stroke="#000" stroke-width="1.3"/>
<line x1="167.64" y1="182" x2="167.64" y2="185.8" stroke="#000" stroke-width="1.3"/>
<line x1="160.4" y1="16.8" x2="160.4" y2="10.2" stroke="#000" stroke-width="1.3"/>
<line x1="160.4" y1="182" x2="160.4" y2="188.6" stroke="#000" stroke-width="1.3"/>
<text x="160.4" y="200.1" font-size="8.6" text-anchor="middle" fill="#000" stroke="#000" stroke-width="0.2" font-family="Liberation Sans, sans-serif" >525</text>
<line x1="153.16" y1="16.8" x2="153.16" y2="13" stroke="#000" stroke-width="1.3"/>
<line x1="153.16" y1="182" x2="153.16" y2="185.8" stroke="#000" stroke-width="1.3"/>
<line x1="145.92" y1="16.8" x2="145.92" y2="13" stroke="#000" stroke-width="1.3"/>
<line x1="145.92" y1="182" x2="145.92" y2="185.8" stroke="#000" stroke-width="1.3"/>
<line x1="138.68" y1="16.8" x2="138.68" y2="13" stroke="#000" stroke-width="1.3"/>
<line x1="138.68" y1="182" x2="138.68" y2="185.8" stroke="#000" stroke-width="1.3"/>
<line x1="131.44" y1="16.8" x2="131.44" y2="13" stroke="#000" stroke-width="1.3"/>
<line x1="131.44" y1="182" x2="131.44" y2="185.8" stroke="#000" stroke-width="1.3"/>
<line x1="124.2" y1="16.8" x2="124.2" y2="10.2" stroke="#000" stroke-width="1.3"/>
<line x1="124.2" y1="182" x2="124.2" y2="188.6" stroke="#000" stroke-width="1.3"/>
<text x="124.2" y="200.1" font-size="8.6" text-anchor="middle" fill="#000" stroke="#000" stroke-width="0.2" font-family="Liberation Sans, sans-serif" >530</text>
<line x1="116.96" y1="16.8" x2="116.96" y2="13" stroke="#000" stroke-width="1.3"/>
<line x1="116.96" y1="182" x2="116.96" y2="185.8" stroke="#000" stroke-width="1.3"/>
<line x1="109.72" y1="16.8" x2="109.72" y2="13" stroke="#000" stroke-width="1.3"/>
<line x1="109.72" y1="182" x2="109.72" y2="185.8" stroke="#000" stroke-width="1.3"/>
<line x1="102.48" y1="16.8" x2="102.48" y2="13" stroke="#000" stroke-width="1.3"/>
<line x1="102.48" y1="182" x2="102.48" y2="185.8" stroke="#000" stroke-width="1.3"/>
<line x1="95.24" y1="16.8" x2="95.24" y2="13" stroke="#000" stroke-width="1.3"/>
<line x1="95.24" y1="182" x2="95.24" y2="185.8" stroke="#000" stroke-width="1.3"/>
<line x1="88" y1="16.8" x2="88" y2="10.2" stroke="#000" stroke-width="1.3"/>
<line x1="88" y1="182" x2="88" y2="188.6" stroke="#000" stroke-width="1.3"/>
<text x="88" y="200.1" font-size="8.6" text-anchor="middle" fill="#000" stroke="#000" stroke-width="0.2" font-family="Liberation Sans, sans-serif" >535</text>
<line x1="80.76" y1="16.8" x2="80.76" y2="13" stroke="#000" stroke-width="1.3"/>
<line x1="80.76" y1="182" x2="80.76" y2="185.8" stroke="#000" stroke-width="1.3"/>
<line x1="73.52" y1="16.8" x2="73.52" y2="13" stroke="#000" stroke-width="1.3"/>
<line x1="73.52" y1="182" x2="73.52" y2="185.8" stroke="#000" stroke-width="1.3"/>
<line x1="66.28" y1="16.8" x2="66.28" y2="13" stroke="#000" stroke-width="1.3"/>
<line x1="66.28" y1="182" x2="66.28" y2="185.8" stroke="#000" stroke-width="1.3"/>
<line x1="59.04" y1="16.8" x2="59.04" y2="13" stroke="#000" stroke-width="1.3"/>
<line x1="59.04" y1="182" x2="59.04" y2="185.8" stroke="#000" stroke-width="1.3"/>
<line x1="51.8" y1="16.8" x2="51.8" y2="10.2" stroke="#000" stroke-width="1.3"/>
<line x1="51.8" y1="182" x2="51.8" y2="188.6" stroke="#000" stroke-width="1.3"/>
<text x="51.8" y="200.1" font-size="8.6" text-anchor="middle" fill="#000" stroke="#000" stroke-width="0.2" font-family="Liberation Sans, sans-serif" >540</text>
<line x1="44.56" y1="16.8" x2="44.56" y2="13" stroke="#000" stroke-width="1.3"/>
<line x1="44.56" y1="182" x2="44.56" y2="185.8" stroke="#000" stroke-width="1.3"/>
<line x1="37.32" y1="16.8" x2="37.32" y2="13" stroke="#000" stroke-width="1.3"/>
<line x1="37.32" y1="182" x2="37.32" y2="185.8" stroke="#000" stroke-width="1.3"/>
<line x1="30.08" y1="16.8" x2="30.08" y2="13" stroke="#000" stroke-width="1.3"/>
<line x1="30.08" y1="182" x2="30.08" y2="185.8" stroke="#000" stroke-width="1.3"/>
<line x1="61.3" y1="52" x2="61.3" y2="78" stroke="#111" stroke-width="1.5" stroke-dasharray="4.6 5.2"/>
<line x1="69.3" y1="47.5" x2="69.3" y2="78" stroke="#111" stroke-width="1.5" stroke-dasharray="4.6 5.2"/>
<line x1="69.3" y1="86" x2="69.3" y2="134" stroke="#111" stroke-width="1.5" stroke-dasharray="4.6 5.2"/>
<line x1="69.4" y1="136" x2="69.4" y2="178" stroke="#111" stroke-width="1.5" stroke-dasharray="4.6 5.2"/>
<line x1="105.5" y1="106" x2="105.5" y2="172" stroke="#111" stroke-width="1.5" stroke-dasharray="4.6 5.2"/>
<line x1="117.5" y1="117" x2="117.5" y2="176" stroke="#111" stroke-width="1.5" stroke-dasharray="4.6 5.2"/>
<circle cx="105.5" cy="102" r="0.8" fill="#000"/><circle cx="117.4" cy="112.2" r="0.8" fill="#000"/><circle cx="126.3" cy="56.8" r="0.8" fill="#000"/>
<line x1="84.6" y1="63.3" x2="84.6" y2="68" stroke="#000" stroke-width="1"/>
<path d="M217.94,97.5 L217.94,97.07 L218.44,96.82 L218.94,96.45 L219.44,95.94 L219.94,95.26 L220.44,94.38 L220.94,93.28 L221.44,91.98 L221.94,90.51 L222.44,88.92 L222.94,87.3 L223.44,85.76 L223.94,84.4 L224.44,83.34 L224.94,82.67 L225.44,82.42 L225.94,82.92 L226.44,84.22 L226.94,85.99 L227.44,87.75 L227.94,89.06 L228.44,89.53 L228.94,88.94 L229.44,87.23 L229.94,84.53 L230.44,81.15 L230.94,77.53 L231.44,74.22 L231.94,71.76 L232.44,70.56 L232.94,70.67 L233.44,71.54 L233.94,73.06 L234.44,75.13 L234.94,77.58 L235.44,80.25 L235.94,82.97 L236.44,85.6 L236.94,88.02 L237.44,90.15 L237.94,91.96 L238.44,93.44 L238.94,94.61 L239.44,95.49 L239.94,96.15 L240.44,96.61 L240.94,96.93 L241.44,97.15 L241.44,97.5 Z" fill="#efad2d"/>
<path d="M263.2,97.5 L263.2,97.1 L263.7,96.92 L264.2,96.68 L264.7,96.36 L265.2,95.97 L265.7,95.49 L266.2,94.95 L266.7,94.34 L267.2,93.69 L267.7,93.04 L268.2,92.41 L268.7,91.86 L269.2,91.42 L269.7,91.13 L270.2,91 L270.7,91.06 L271.2,91.29 L271.7,91.67 L272.2,92.18 L272.7,92.78 L273.2,93.43 L273.7,94.08 L274.2,94.71 L274.7,95.28 L275.2,95.79 L275.7,96.21 L276.2,96.56 L276.7,96.83 L277.2,97.04 L277.2,97.5 Z" fill="#3f4db3"/>
<path d="M271.22,97.5 L271.22,97.04 L271.72,96.88 L272.22,96.66 L272.72,96.38 L273.22,96.02 L273.72,95.56 L274.22,94.98 L274.72,94.27 L275.22,93.4 L275.72,92.36 L276.22,91.11 L276.72,89.64 L277.22,87.94 L277.72,85.98 L278.22,83.77 L278.72,81.31 L279.22,78.6 L279.72,75.66 L280.22,72.54 L280.72,69.25 L281.22,65.87 L281.72,62.45 L282.22,59.07 L282.72,55.79 L283.22,52.7 L283.72,49.88 L284.22,47.41 L284.72,45.36 L285.22,43.78 L285.72,42.73 L286.22,42.24 L286.72,42.41 L287.22,43.54 L287.72,45.61 L288.22,48.5 L288.72,52.07 L289.22,56.14 L289.72,60.53 L290.22,65.05 L290.72,69.53 L291.22,73.83 L291.72,77.83 L292.22,81.45 L292.72,84.64 L293.22,87.39 L293.72,89.69 L294.22,91.57 L294.72,93.09 L295.22,94.27 L295.72,95.18 L296.22,95.87 L296.72,96.37 L297.22,96.73 L297.72,96.99 L297.72,97.5 Z" fill="#dc2530"/>
<path d="M217.94,97.5 L217.94,97.07 L218.44,96.82 L218.94,96.45 L219.44,95.94 L219.94,95.26 L220.44,94.38 L220.94,93.28 L221.44,91.98 L221.94,90.51 L222.44,88.92 L222.94,87.3 L223.44,85.76 L223.94,84.41 L224.44,83.36 L224.94,82.7 L225.44,82.5 L225.94,83.09 L226.44,84.59 L226.94,86.7 L227.44,89.07 L227.94,91.36 L228.44,93.33 L228.94,94.86 L229.44,95.94 L229.94,96.64 L230.44,97.06 L230.44,97.5 Z" fill="#e09a2a" stroke="#f6d9a0" stroke-width="0.5" stroke-opacity="0.6"/>
<line x1="214" y1="97.8" x2="300" y2="97.8" stroke="#5a4fc4" stroke-width="1.3"/>
<path d="M192.5,98.44 L193.5,95.81 L194.5,96.96 L195.5,96.49 L196.5,96 L197.5,96.24 L198.5,96.28 L199.5,96.62 L200.5,97.01 L201.5,97.51 L202.5,96.86 L203.5,97.57 L204.5,97.03 L205.5,96.75 L206.5,96.49 L207.5,95.89 L208.5,95.4 L209.5,96.6 L210.5,96.53 L211.5,96.91 L212.5,96.92 L213.5,95.65 L214.5,96.08 L215.5,95.74 L216.5,97.35 L217.5,96.28 L218.5,96.03 L219.5,94.31 L220.5,92.4 L221.5,90.5 L222.5,87.79 L223.5,85.09 L224.5,81.18 L225.5,81.84 L226.5,82.88 L227.5,86.67 L228.5,88.4 L229.5,85.76 L230.5,80.22 L231.5,73.71 L232.5,69.93 L233.5,70.4 L234.5,74.88 L235.5,80.02 L236.5,85.73 L237.5,89.74 L238.5,91.47 L239.5,94.13 L240.5,95.48 L241.5,97.04 L242.5,96.42 L243.5,97.33 L244.5,96.86 L245.5,95.7 L246.5,96.68 L247.5,97.08 L248.5,96.96 L249.5,95.47 L250.5,96.98 L251.5,96.18 L252.5,94.98 L253.5,96.19 L254.5,95.09 L255.5,95.64 L256.5,97.78 L257.5,98.59 L258.5,97.48 L259.5,96.98 L260.5,98.11 L261.5,96.82 L262.5,95.65 L263.5,94.21 L264.5,96.35 L265.5,93.05 L266.5,91.46 L267.5,91.89 L268.5,91.2 L269.5,89.55 L270.5,90.7 L271.5,90.03 L272.5,90.85 L273.5,91.59 L274.5,90.85 L275.5,90.71 L276.5,90.54 L277.5,84.91 L278.5,81.55 L279.5,76.49 L280.5,69.41 L281.5,63.06 L282.5,55 L283.5,49.89 L284.5,45.39 L285.5,43.16 L286.5,42.12 L287.5,43.28 L288.5,48.7 L289.5,59.18 L290.5,67.43 L291.5,73.75 L292.5,82.18 L293.5,87.16 L294.5,91.14 L295.5,92.6 L296.5,94.99 L297.5,95.63 L298.5,96.21 L299.5,97.38 L300.5,96.8 L301.5,95.68 L302.5,95.27 L303.5,96.24 L304.5,97.58 L305.5,97.41 L306.5,96.19 L307.5,97.59 L308.5,97.01 L309.5,96.18 L310.5,97.01 L311.5,96.6 L312.5,95.78 L313.5,96.32 L314.5,96.8 L315.5,97.72 L316.5,95.84 L317.5,96.86 L318.5,96.69 L319.5,96.63 L320.5,95.69 L321.5,97.68" fill="none" stroke="#111" stroke-width="1.3" stroke-linejoin="round" stroke-linecap="round"/>
<path d="M192.5,97.5 L193,97.5 L193.5,97.5 L194,97.5 L194.5,97.5 L195,97.5 L195.5,97.5 L196,97.5 L196.5,97.5 L197,97.5 L197.5,97.5 L198,97.5 L198.5,97.5 L199,97.5 L199.5,97.5 L200,97.5 L200.5,97.5 L201,97.5 L201.5,97.5 L202,97.5 L202.5,97.5 L203,97.5 L203.5,97.5 L204,97.5 L204.5,97.5 L205,97.5 L205.5,97.5 L206,97.5 L206.5,97.5 L207,97.5 L207.5,97.5 L208,97.5 L208.5,97.5 L209,97.5 L209.5,97.5 L210,97.5 L210.5,97.5 L211,97.5 L211.5,97.5 L212,97.5 L212.5,97.5 L213,97.5 L213.5,97.5 L214,97.5 L214.5,97.49 L215,97.48 L215.5,97.47 L216,97.45 L216.5,97.4 L217,97.33 L217.5,97.22 L218,97.04 L218.5,96.78 L219,96.4 L219.5,95.87 L220,95.16 L220.5,94.26 L221,93.14 L221.5,91.81 L222,90.32 L222.5,88.73 L223,87.11 L223.5,85.58 L224,84.26 L224.5,83.24 L225,82.61 L225.5,82.43 L226,83.04 L226.5,84.42 L227,86.21 L227.5,87.94 L228,89.17 L228.5,89.52 L229,88.8 L229.5,86.96 L230,84.15 L230.5,80.71 L231,77.11 L231.5,73.87 L232,71.54 L232.5,70.52 L233,70.73 L233.5,71.69 L234,73.29 L234.5,75.41 L235,77.89 L235.5,80.58 L236,83.29 L236.5,85.9 L237,88.29 L237.5,90.39 L238,92.16 L238.5,93.6 L239,94.73 L239.5,95.58 L240,96.21 L240.5,96.66 L241,96.96 L241.5,97.17 L242,97.3 L242.5,97.38 L243,97.43 L243.5,97.46 L244,97.48 L244.5,97.49 L245,97.49 L245.5,97.5 L246,97.5 L246.5,97.5 L247,97.5 L247.5,97.5 L248,97.5 L248.5,97.5 L249,97.5 L249.5,97.5 L250,97.5 L250.5,97.5 L251,97.5 L251.5,97.5 L252,97.5 L252.5,97.5 L253,97.5 L253.5,97.5 L254,97.5 L254.5,97.5 L255,97.5 L255.5,97.5 L256,97.5 L256.5,97.5 L257,97.5 L257.5,97.5 L258,97.5 L258.5,97.5 L259,97.49 L259.5,97.49 L260,97.48 L260.5,97.47 L261,97.45 L261.5,97.41 L262,97.36 L262.5,97.28 L263,97.16 L263.5,97 L264,96.78 L264.5,96.49 L265,96.13 L265.5,95.69 L266,95.16 L266.5,94.57 L267,93.93 L267.5,93.26 L268,92.61 L268.5,92 L269,91.48 L269.5,91.08 L270,90.83 L270.5,90.73 L271,90.78 L271.5,90.96 L272,91.23 L272.5,91.54 L273,91.85 L273.5,92.09 L274,92.21 L274.5,92.16 L275,91.9 L275.5,91.39 L276,90.62 L276.5,89.55 L277,88.18 L277.5,86.51 L278,84.54 L278.5,82.27 L279,79.72 L279.5,76.92 L280,73.9 L280.5,70.69 L281,67.36 L281.5,63.95 L282,60.55 L282.5,57.21 L283,54.03 L283.5,51.08 L284,48.45 L284.5,46.2 L285,44.41 L285.5,43.12 L286,42.38 L286.5,42.22 L287,42.92 L287.5,44.59 L288,47.14 L288.5,50.43 L289,54.3 L289.5,58.57 L290,63.05 L290.5,67.57 L291,71.97 L291.5,76.11 L292,79.91 L292.5,83.29 L293,86.23 L293.5,88.73 L294,90.79 L294.5,92.46 L295,93.79 L295.5,94.81 L296,95.59 L296.5,96.17 L297,96.59 L297.5,96.89 L298,97.09 L298.5,97.24 L299,97.33 L299.5,97.4 L300,97.44 L300.5,97.46 L301,97.48 L301.5,97.49 L302,97.49 L302.5,97.5 L303,97.5 L303.5,97.5 L304,97.5 L304.5,97.5 L305,97.5 L305.5,97.5 L306,97.5 L306.5,97.5 L307,97.5 L307.5,97.5 L308,97.5 L308.5,97.5 L309,97.5 L309.5,97.5 L310,97.5 L310.5,97.5 L311,97.5 L311.5,97.5 L312,97.5 L312.5,97.5 L313,97.5 L313.5,97.5 L314,97.5 L314.5,97.5 L315,97.5 L315.5,97.5 L316,97.5 L316.5,97.5 L317,97.5 L317.5,97.5 L318,97.5 L318.5,97.5 L319,97.5 L319.5,97.5 L320,97.5 L320.5,97.5 L321,97.5 L321.5,97.5 L322,97.5 L322.5,97.5" fill="none" stroke="#22309e" stroke-width="1.6"/>
<path d="M192.5,99.89h0.01M193.5,97.61h0.01M194.5,97.46h0.01M195.5,98.16h0.01M196.5,96.58h0.01M197.5,97.35h0.01M198.5,95.86h0.01M199.5,96.84h0.01M200.5,96.6h0.01M201.5,96.26h0.01M202.5,96.32h0.01M203.5,96.24h0.01M204.5,95.71h0.01M205.5,96.27h0.01M206.5,95.76h0.01M207.5,98.24h0.01M208.5,97.42h0.01M209.5,97.81h0.01M210.5,97.41h0.01M211.5,95.89h0.01M212.5,97.21h0.01M213.5,93.96h0.01M214.5,95.33h0.01M215.5,95.15h0.01M216.5,96.9h0.01M217.5,97.25h0.01M218.5,95.09h0.01M219.5,97.06h0.01M220.5,91.78h0.01M221.5,91.46h0.01M222.5,85.94h0.01M223.5,86.12h0.01M224.5,79.74h0.01M225.5,82.04h0.01M226.5,82.85h0.01M227.5,87.6h0.01M228.5,89.09h0.01M229.5,86.19h0.01M230.5,80.03h0.01M231.5,75.95h0.01M232.5,69.37h0.01M233.5,70.39h0.01M234.5,74.31h0.01M235.5,80.15h0.01M236.5,84.59h0.01M237.5,89.24h0.01M238.5,92.03h0.01M239.5,93.44h0.01M240.5,96h0.01M241.5,96.34h0.01M242.5,98.04h0.01M243.5,97.15h0.01M244.5,98.88h0.01M245.5,96.26h0.01M246.5,96.5h0.01M247.5,98.16h0.01M248.5,98.29h0.01M249.5,97.22h0.01M250.5,98.57h0.01M251.5,97.19h0.01M252.5,93.6h0.01M253.5,97.25h0.01M254.5,94.96h0.01M255.5,96.09h0.01M256.5,99.22h0.01M257.5,97.73h0.01M258.5,99h0.01M259.5,99.73h0.01M260.5,98.73h0.01M261.5,96.44h0.01M262.5,97.22h0.01M263.5,94.4h0.01M264.5,97.55h0.01M265.5,94.48h0.01M266.5,89.68h0.01M267.5,92.24h0.01M268.5,89.41h0.01M269.5,88.71h0.01M270.5,91.38h0.01M271.5,88.62h0.01M272.5,89.99h0.01M273.5,91.03h0.01M274.5,91.18h0.01M275.5,91.09h0.01M276.5,91.03h0.01M277.5,84.3h0.01M278.5,80.65h0.01M279.5,76.94h0.01M280.5,68.38h0.01M281.5,62.09h0.01M282.5,55.78h0.01M283.5,48.93h0.01M284.5,44.31h0.01M285.5,44.44h0.01M286.5,42.04h0.01M287.5,40.67h0.01M288.5,47.79h0.01M289.5,61.4h0.01M290.5,70.68h0.01M291.5,73.37h0.01M292.5,82.95h0.01M293.5,87.98h0.01M294.5,91.46h0.01M295.5,90.46h0.01M296.5,96.11h0.01M297.5,95.92h0.01M298.5,95.89h0.01M299.5,95.47h0.01M300.5,96.03h0.01M301.5,95.5h0.01M302.5,94.94h0.01M303.5,96.46h0.01M304.5,97.09h0.01M305.5,98.52h0.01M306.5,96.87h0.01M307.5,96.21h0.01M308.5,96.27h0.01M309.5,96.62h0.01M310.5,96.33h0.01M311.5,98.17h0.01M312.5,95.11h0.01M313.5,96.56h0.01M314.5,97.45h0.01M315.5,96.37h0.01M316.5,97.24h0.01M317.5,96.57h0.01M318.5,95.82h0.01M319.5,95.78h0.01M320.5,93.69h0.01M321.5,96.06h0.01" fill="none" stroke="#111" stroke-width="2" stroke-linecap="round"/>
<path d="M216.58,130.9 L216.58,130.43 L217.08,130.17 L217.58,129.79 L218.08,129.29 L218.58,128.64 L219.08,127.84 L219.58,126.92 L220.08,125.9 L220.58,124.86 L221.08,123.86 L221.58,122.99 L222.08,122.33 L222.58,121.96 L223.08,121.92 L223.58,122.29 L224.08,123.03 L224.58,124.02 L225.08,125.07 L225.58,125.99 L226.08,126.61 L226.58,126.74 L227.08,126.25 L227.58,125.03 L228.08,123.05 L228.58,120.37 L229.08,117.13 L229.58,113.62 L230.08,110.22 L230.58,107.35 L231.08,105.41 L231.58,104.7 L232.08,105.26 L232.58,106.97 L233.08,109.6 L233.58,112.81 L234.08,116.25 L234.58,119.58 L235.08,122.56 L235.58,125.04 L236.08,126.97 L236.58,128.39 L237.08,129.37 L237.58,130.01 L238.08,130.4 L238.08,130.9 Z" fill="#efad2d"/>
<path d="M257.38,130.9 L257.38,130.45 L257.88,130.3 L258.38,130.12 L258.88,129.89 L259.38,129.6 L259.88,129.26 L260.38,128.85 L260.88,128.36 L261.38,127.8 L261.88,127.16 L262.38,126.44 L262.88,125.64 L263.38,124.77 L263.88,123.84 L264.38,122.86 L264.88,121.86 L265.38,120.86 L265.88,119.87 L266.38,118.92 L266.88,118.05 L267.38,117.28 L267.88,116.63 L268.38,116.13 L268.88,115.79 L269.38,115.62 L269.88,115.63 L270.38,115.83 L270.88,116.21 L271.38,116.75 L271.88,117.44 L272.38,118.26 L272.88,119.17 L273.38,120.15 L273.88,121.17 L274.38,122.2 L274.88,123.21 L275.38,124.19 L275.88,125.12 L276.38,125.98 L276.88,126.77 L277.38,127.47 L277.88,128.08 L278.38,128.62 L278.88,129.08 L279.38,129.46 L279.88,129.77 L280.38,130.03 L280.88,130.24 L281.38,130.4 L281.88,130.53 L281.88,130.9 Z" fill="#3f4db3"/>
<path d="M273.32,130.9 L273.32,130.44 L273.82,130.27 L274.32,130.04 L274.82,129.75 L275.32,129.37 L275.82,128.91 L276.32,128.33 L276.82,127.63 L277.32,126.79 L277.82,125.81 L278.32,124.66 L278.82,123.36 L279.32,121.91 L279.82,120.31 L280.32,118.59 L280.82,116.78 L281.32,114.9 L281.82,113.01 L282.32,111.15 L282.82,109.38 L283.32,107.74 L283.82,106.31 L284.32,105.12 L284.82,104.22 L285.32,103.64 L285.82,103.4 L286.32,103.64 L286.82,104.51 L287.32,105.98 L287.82,107.93 L288.32,110.24 L288.82,112.76 L289.32,115.37 L289.82,117.91 L290.32,120.31 L290.82,122.47 L291.32,124.35 L291.82,125.93 L292.32,127.22 L292.82,128.25 L293.32,129.03 L293.82,129.61 L294.32,130.04 L294.82,130.33 L295.32,130.54 L295.32,130.9 Z" fill="#dc2530"/>
<path d="M216.58,130.9 L216.58,130.43 L217.08,130.17 L217.58,129.79 L218.08,129.29 L218.58,128.64 L219.08,127.84 L219.58,126.92 L220.08,125.9 L220.58,124.86 L221.08,123.86 L221.58,122.99 L222.08,122.34 L222.58,121.97 L223.08,121.93 L223.58,122.32 L224.08,123.11 L224.58,124.18 L225.08,125.39 L225.58,126.61 L226.08,127.73 L226.58,128.68 L227.08,129.42 L227.58,129.96 L228.08,130.34 L228.08,130.9 Z" fill="#e09a2a" stroke="#f6d9a0" stroke-width="0.5" stroke-opacity="0.6"/>
<line x1="214" y1="131.2" x2="300" y2="131.2" stroke="#5a4fc4" stroke-width="1.3"/>
<path d="M192.5,131.27 L193.5,129.96 L194.5,129.84 L195.5,130.22 L196.5,130.53 L197.5,129.43 L198.5,129.9 L199.5,130.28 L200.5,130.88 L201.5,130.27 L202.5,131.4 L203.5,129.89 L204.5,129.8 L205.5,128.95 L206.5,130.03 L207.5,130.58 L208.5,129.87 L209.5,129.93 L210.5,129.28 L211.5,129.59 L212.5,129.7 L213.5,129.98 L214.5,130.88 L215.5,130.32 L216.5,130.36 L217.5,129.97 L218.5,127.54 L219.5,127.31 L220.5,124.22 L221.5,121.22 L222.5,120.68 L223.5,121.29 L224.5,121.78 L225.5,126.87 L226.5,125.88 L227.5,125.12 L228.5,119.03 L229.5,113.43 L230.5,107.12 L231.5,103.28 L232.5,106 L233.5,111.43 L234.5,118.53 L235.5,122.87 L236.5,127.77 L237.5,128.86 L238.5,129.09 L239.5,128.23 L240.5,129.89 L241.5,129.76 L242.5,131.96 L243.5,129.09 L244.5,131.25 L245.5,131.06 L246.5,130.39 L247.5,130.26 L248.5,130.46 L249.5,128.87 L250.5,131.19 L251.5,129.79 L252.5,129.45 L253.5,130.02 L254.5,127.79 L255.5,128.86 L256.5,128.85 L257.5,128.32 L258.5,129.69 L259.5,129.96 L260.5,127.9 L261.5,126.55 L262.5,125.66 L263.5,123.3 L264.5,121.88 L265.5,120.09 L266.5,117.68 L267.5,115.93 L268.5,115.23 L269.5,114.78 L270.5,115.54 L271.5,114.72 L272.5,116.46 L273.5,118.63 L274.5,121.02 L275.5,120.85 L276.5,123.49 L277.5,123.47 L278.5,120.61 L279.5,120.03 L280.5,114.61 L281.5,112.82 L282.5,108.1 L283.5,107.07 L284.5,104.51 L285.5,103.03 L286.5,102.54 L287.5,104.86 L288.5,110.6 L289.5,115.02 L290.5,120.79 L291.5,122.81 L292.5,127.1 L293.5,128.8 L294.5,127.47 L295.5,128.7 L296.5,129.35 L297.5,129.51 L298.5,128.63 L299.5,130.03 L300.5,129.12 L301.5,129.96 L302.5,128.55 L303.5,129.07 L304.5,130.58 L305.5,128.65 L306.5,129.99 L307.5,131.18 L308.5,130.66 L309.5,128.96 L310.5,131.8 L311.5,129.57 L312.5,130.76 L313.5,130.78 L314.5,129.76 L315.5,130.52 L316.5,127.81 L317.5,130.09 L318.5,130.14 L319.5,129.74 L320.5,130.11 L321.5,130.87" fill="none" stroke="#111" stroke-width="1.3" stroke-linejoin="round" stroke-linecap="round"/>
<path d="M192.5,130.9 L193,130.9 L193.5,130.9 L194,130.9 L194.5,130.9 L195,130.9 L195.5,130.9 L196,130.9 L196.5,130.9 L197,130.9 L197.5,130.9 L198,130.9 L198.5,130.9 L199,130.9 L199.5,130.9 L200,130.9 L200.5,130.9 L201,130.9 L201.5,130.9 L202,130.9 L202.5,130.9 L203,130.9 L203.5,130.9 L204,130.9 L204.5,130.9 L205,130.9 L205.5,130.9 L206,130.9 L206.5,130.9 L207,130.9 L207.5,130.9 L208,130.9 L208.5,130.9 L209,130.9 L209.5,130.9 L210,130.9 L210.5,130.9 L211,130.9 L211.5,130.9 L212,130.9 L212.5,130.9 L213,130.89 L213.5,130.89 L214,130.87 L214.5,130.85 L215,130.81 L215.5,130.74 L216,130.63 L216.5,130.46 L217,130.21 L217.5,129.86 L218,129.38 L218.5,128.75 L219,127.98 L219.5,127.07 L220,126.07 L220.5,125.02 L221,124.01 L221.5,123.11 L222,122.42 L222.5,122 L223,121.9 L223.5,122.2 L224,122.89 L224.5,123.85 L225,124.9 L225.5,125.86 L226,126.54 L226.5,126.76 L227,126.37 L227.5,125.27 L228,123.42 L228.5,120.84 L229,117.68 L229.5,114.19 L230,110.74 L230.5,107.76 L231,105.65 L231.5,104.72 L232,105.09 L232.5,106.63 L233,109.13 L233.5,112.27 L234,115.7 L234.5,119.07 L235,122.11 L235.5,124.68 L236,126.7 L236.5,128.19 L237,129.24 L237.5,129.92 L238,130.35 L238.5,130.61 L239,130.75 L239.5,130.83 L240,130.87 L240.5,130.89 L241,130.89 L241.5,130.9 L242,130.9 L242.5,130.9 L243,130.9 L243.5,130.9 L244,130.9 L244.5,130.9 L245,130.9 L245.5,130.9 L246,130.9 L246.5,130.9 L247,130.9 L247.5,130.9 L248,130.9 L248.5,130.9 L249,130.9 L249.5,130.9 L250,130.9 L250.5,130.9 L251,130.9 L251.5,130.89 L252,130.89 L252.5,130.88 L253,130.88 L253.5,130.87 L254,130.85 L254.5,130.83 L255,130.8 L255.5,130.76 L256,130.71 L256.5,130.63 L257,130.54 L257.5,130.42 L258,130.26 L258.5,130.07 L259,129.82 L259.5,129.53 L260,129.17 L260.5,128.74 L261,128.23 L261.5,127.65 L262,126.99 L262.5,126.25 L263,125.43 L263.5,124.55 L264,123.61 L264.5,122.62 L265,121.62 L265.5,120.61 L266,119.63 L266.5,118.71 L267,117.86 L267.5,117.11 L268,116.49 L268.5,116.02 L269,115.71 L269.5,115.58 L270,115.62 L270.5,115.84 L271,116.23 L271.5,116.77 L272,117.44 L272.5,118.2 L273,119.03 L273.5,119.87 L274,120.7 L274.5,121.48 L275,122.17 L275.5,122.74 L276,123.15 L276.5,123.37 L277,123.39 L277.5,123.18 L278,122.73 L278.5,122.05 L279,121.13 L279.5,119.99 L280,118.65 L280.5,117.14 L281,115.49 L281.5,113.76 L282,111.99 L282.5,110.25 L283,108.59 L283.5,107.07 L284,105.76 L284.5,104.69 L285,103.93 L285.5,103.48 L286,103.39 L286.5,103.87 L287,104.97 L287.5,106.63 L288,108.72 L288.5,111.13 L289,113.7 L289.5,116.29 L290,118.8 L290.5,121.11 L291,123.18 L291.5,124.95 L292,126.43 L292.5,127.62 L293,128.55 L293.5,129.26 L294,129.78 L294.5,130.16 L295,130.42 L295.5,130.59 L296,130.71 L296.5,130.79 L297,130.83 L297.5,130.86 L298,130.88 L298.5,130.89 L299,130.89 L299.5,130.9 L300,130.9 L300.5,130.9 L301,130.9 L301.5,130.9 L302,130.9 L302.5,130.9 L303,130.9 L303.5,130.9 L304,130.9 L304.5,130.9 L305,130.9 L305.5,130.9 L306,130.9 L306.5,130.9 L307,130.9 L307.5,130.9 L308,130.9 L308.5,130.9 L309,130.9 L309.5,130.9 L310,130.9 L310.5,130.9 L311,130.9 L311.5,130.9 L312,130.9 L312.5,130.9 L313,130.9 L313.5,130.9 L314,130.9 L314.5,130.9 L315,130.9 L315.5,130.9 L316,130.9 L316.5,130.9 L317,130.9 L317.5,130.9 L318,130.9 L318.5,130.9 L319,130.9 L319.5,130.9 L320,130.9 L320.5,130.9 L321,130.9 L321.5,130.9 L322,130.9 L322.5,130.9" fill="none" stroke="#22309e" stroke-width="1.6"/>
<path d="M192.5,132.23h0.01M193.5,129.12h0.01M194.5,130.62h0.01M195.5,131.45h0.01M196.5,130.53h0.01M197.5,129.75h0.01M198.5,126.95h0.01M199.5,128.35h0.01M200.5,131.18h0.01M201.5,128.42h0.01M202.5,132.25h0.01M203.5,131.1h0.01M204.5,128.53h0.01M205.5,127.48h0.01M206.5,129.67h0.01M207.5,130.71h0.01M208.5,130.68h0.01M209.5,129.53h0.01M210.5,129.19h0.01M211.5,128.31h0.01M212.5,129.89h0.01M213.5,128.95h0.01M214.5,131.89h0.01M215.5,130.98h0.01M216.5,128.34h0.01M217.5,130.22h0.01M218.5,126.14h0.01M219.5,128.28h0.01M220.5,122.89h0.01M221.5,122.53h0.01M222.5,121.77h0.01M223.5,123.4h0.01M224.5,122.02h0.01M225.5,126.79h0.01M226.5,127.14h0.01M227.5,123.57h0.01M228.5,118.84h0.01M229.5,112.92h0.01M230.5,106.91h0.01M231.5,101.31h0.01M232.5,103.92h0.01M233.5,109.32h0.01M234.5,120.07h0.01M235.5,122.34h0.01M236.5,128.34h0.01M237.5,128.56h0.01M238.5,128.66h0.01M239.5,129.58h0.01M240.5,127.08h0.01M241.5,129.36h0.01M242.5,130.91h0.01M243.5,127.88h0.01M244.5,129.24h0.01M245.5,129.15h0.01M246.5,128.86h0.01M247.5,131.36h0.01M248.5,129.52h0.01M249.5,128.19h0.01M250.5,130.84h0.01M251.5,130.36h0.01M252.5,130.49h0.01M253.5,130.09h0.01M254.5,127.64h0.01M255.5,129.31h0.01M256.5,127.78h0.01M257.5,128.42h0.01M258.5,131.48h0.01M259.5,129.06h0.01M260.5,126.77h0.01M261.5,124.63h0.01M262.5,125.58h0.01M263.5,123.86h0.01M264.5,121.25h0.01M265.5,119.57h0.01M266.5,118.88h0.01M267.5,115.82h0.01M268.5,115.88h0.01M269.5,114.21h0.01M270.5,116.88h0.01M271.5,115.62h0.01M272.5,116.15h0.01M273.5,117.8h0.01M274.5,123.79h0.01M275.5,119.48h0.01M276.5,122.24h0.01M277.5,120.48h0.01M278.5,121.25h0.01M279.5,119.96h0.01M280.5,114.37h0.01M281.5,110.93h0.01M282.5,107.98h0.01M283.5,106.03h0.01M284.5,103.04h0.01M285.5,102.62h0.01M286.5,102.76h0.01M287.5,104.56h0.01M288.5,109.89h0.01M289.5,115.73h0.01M290.5,120.94h0.01M291.5,122.26h0.01M292.5,127.62h0.01M293.5,129.02h0.01M294.5,128.39h0.01M295.5,129.52h0.01M296.5,130.06h0.01M297.5,128.7h0.01M298.5,130.01h0.01M299.5,131.05h0.01M300.5,128.37h0.01M301.5,131.26h0.01M302.5,128.54h0.01M303.5,127.81h0.01M304.5,130.41h0.01M305.5,127.06h0.01M306.5,131.15h0.01M307.5,129.61h0.01M308.5,132.21h0.01M309.5,127.85h0.01M310.5,131.52h0.01M311.5,130.91h0.01M312.5,131.04h0.01M313.5,128.79h0.01M314.5,129.49h0.01M315.5,128.33h0.01M316.5,128.45h0.01M317.5,128.81h0.01M318.5,129.92h0.01M319.5,129.47h0.01M320.5,128.28h0.01M321.5,131.13h0.01" fill="none" stroke="#111" stroke-width="2" stroke-linecap="round"/>
<path d="M213.3,175.9 L213.3,175.37 L213.8,175.11 L214.3,174.74 L214.8,174.26 L215.3,173.62 L215.8,172.84 L216.3,171.89 L216.8,170.79 L217.3,169.57 L217.8,168.28 L218.3,166.97 L218.8,165.72 L219.3,164.62 L219.8,163.74 L220.3,163.16 L220.8,162.9 L221.3,163.02 L221.8,163.53 L222.3,164.37 L222.8,165.44 L223.3,166.61 L223.8,167.72 L224.3,168.6 L224.8,169.06 L225.3,168.92 L225.8,168.03 L226.3,166.31 L226.8,163.8 L227.3,160.67 L227.8,157.27 L228.3,154.04 L228.8,151.48 L229.3,150.02 L229.8,149.89 L230.3,150.78 L230.8,152.5 L231.3,154.89 L231.8,157.72 L232.3,160.73 L232.8,163.71 L233.3,166.45 L233.8,168.85 L234.3,170.83 L234.8,172.38 L235.3,173.55 L235.8,174.39 L236.3,174.96 L236.8,175.34 L236.8,175.9 Z" fill="#efad2d"/>
<path d="M258.44,175.9 L258.44,175.53 L258.94,175.36 L259.44,175.11 L259.94,174.76 L260.44,174.3 L260.94,173.68 L261.44,172.88 L261.94,171.86 L262.44,170.59 L262.94,169.04 L263.44,167.18 L263.94,165.01 L264.44,162.54 L264.94,159.79 L265.44,156.81 L265.94,153.66 L266.44,150.43 L266.94,147.24 L267.44,144.2 L267.94,141.44 L268.44,139.09 L268.94,137.24 L269.44,136.01 L269.94,135.44 L270.44,135.55 L270.94,136.28 L271.44,137.61 L271.94,139.47 L272.44,141.77 L272.94,144.42 L273.44,147.32 L273.94,150.35 L274.44,153.42 L274.94,156.42 L275.44,159.29 L275.94,161.95 L276.44,164.37 L276.94,166.51 L277.44,168.38 L277.94,169.97 L278.44,171.29 L278.94,172.38 L279.44,173.25 L279.94,173.93 L280.44,174.47 L280.94,174.87 L281.44,175.17 L281.94,175.39 L281.94,175.9 Z" fill="#3f4db3"/>
<path d="M213.3,175.9 L213.3,175.37 L213.8,175.11 L214.3,174.74 L214.8,174.26 L215.3,173.62 L215.8,172.84 L216.3,171.89 L216.8,170.79 L217.3,169.57 L217.8,168.28 L218.3,166.97 L218.8,165.72 L219.3,164.62 L219.8,163.75 L220.3,163.16 L220.8,162.91 L221.3,163.03 L221.8,163.55 L222.3,164.43 L222.8,165.57 L223.3,166.9 L223.8,168.3 L224.3,169.68 L224.8,170.97 L225.3,172.12 L225.8,173.09 L226.3,173.88 L226.8,174.49 L227.3,174.95 L227.8,175.28 L228.3,175.5 L228.3,175.9 Z" fill="#e09a2a" stroke="#f6d9a0" stroke-width="0.5" stroke-opacity="0.6"/>
<line x1="214" y1="176.2" x2="280" y2="176.2" stroke="#dc2530" stroke-width="1.3"/>
<path d="M192.5,176.43 L193.5,174.3 L194.5,174.56 L195.5,175.32 L196.5,175.98 L197.5,174.33 L198.5,175.18 L199.5,175.31 L200.5,175.86 L201.5,174.37 L202.5,176.97 L203.5,176.64 L204.5,173.95 L205.5,174.4 L206.5,175.31 L207.5,174.52 L208.5,174.61 L209.5,175.02 L210.5,174.42 L211.5,174.45 L212.5,174.94 L213.5,174.1 L214.5,173.98 L215.5,173.29 L216.5,171.48 L217.5,168.27 L218.5,167.22 L219.5,163.07 L220.5,162.86 L221.5,163.75 L222.5,164.06 L223.5,166.86 L224.5,167.62 L225.5,167.35 L226.5,164.7 L227.5,158.84 L228.5,152.34 L229.5,149.48 L230.5,150.77 L231.5,155.06 L232.5,160.6 L233.5,166.52 L234.5,170.69 L235.5,173.06 L236.5,173.43 L237.5,175.79 L238.5,175.84 L239.5,175.21 L240.5,174.67 L241.5,175.92 L242.5,174.87 L243.5,174.86 L244.5,175.52 L245.5,174.63 L246.5,175.16 L247.5,174.68 L248.5,175.54 L249.5,175.39 L250.5,175.62 L251.5,175.4 L252.5,175.32 L253.5,175.36 L254.5,175.68 L255.5,174.29 L256.5,174.08 L257.5,174.95 L258.5,174.81 L259.5,174.04 L260.5,174.57 L261.5,172.31 L262.5,170.57 L263.5,166.18 L264.5,160.33 L265.5,154.53 L266.5,150.06 L267.5,143.06 L268.5,137.63 L269.5,136.07 L270.5,136.11 L271.5,137.28 L272.5,142.24 L273.5,146.61 L274.5,152.22 L275.5,157.5 L276.5,164.66 L277.5,166.55 L278.5,170.29 L279.5,172.57 L280.5,174.15 L281.5,172.92 L282.5,174.56 L283.5,174.29 L284.5,176.14 L285.5,174.9 L286.5,174.55 L287.5,176.4 L288.5,175.2 L289.5,175.69 L290.5,175.32 L291.5,174.95 L292.5,175.65 L293.5,174.51 L294.5,174 L295.5,174.56 L296.5,175.56 L297.5,174.78 L298.5,175.9 L299.5,175.63 L300.5,175.24 L301.5,175.93 L302.5,175.37 L303.5,175.32 L304.5,174.86 L305.5,174.99 L306.5,175.02 L307.5,175.89 L308.5,176.3 L309.5,175.91 L310.5,175.27 L311.5,174.98 L312.5,175.27 L313.5,174.63 L314.5,175.06 L315.5,174.82 L316.5,175.05 L317.5,173.24 L318.5,175.07 L319.5,175.58 L320.5,174.25 L321.5,176.44" fill="none" stroke="#111" stroke-width="1.3" stroke-linejoin="round" stroke-linecap="round"/>
<path d="M192.5,175.9 L193,175.9 L193.5,175.9 L194,175.9 L194.5,175.9 L195,175.9 L195.5,175.9 L196,175.9 L196.5,175.9 L197,175.9 L197.5,175.9 L198,175.9 L198.5,175.9 L199,175.9 L199.5,175.9 L200,175.9 L200.5,175.9 L201,175.9 L201.5,175.9 L202,175.9 L202.5,175.9 L203,175.9 L203.5,175.9 L204,175.9 L204.5,175.9 L205,175.9 L205.5,175.9 L206,175.9 L206.5,175.9 L207,175.9 L207.5,175.9 L208,175.9 L208.5,175.9 L209,175.9 L209.5,175.89 L210,175.88 L210.5,175.87 L211,175.84 L211.5,175.8 L212,175.74 L212.5,175.64 L213,175.49 L213.5,175.28 L214,174.98 L214.5,174.56 L215,174.02 L215.5,173.33 L216,172.48 L216.5,171.47 L217,170.32 L217.5,169.06 L218,167.75 L218.5,166.46 L219,165.26 L219.5,164.24 L220,163.47 L220.5,163.01 L221,162.9 L221.5,163.18 L222,163.83 L222.5,164.77 L223,165.9 L223.5,167.07 L224,168.11 L224.5,168.85 L225,169.09 L225.5,168.66 L226,167.44 L226.5,165.4 L227,162.61 L227.5,159.32 L228,155.93 L228.5,152.91 L229,150.74 L229.5,149.81 L230,150.14 L230.5,151.38 L231,153.39 L231.5,155.98 L232,158.91 L232.5,161.94 L233,164.84 L233.5,167.46 L234,169.69 L234.5,171.5 L235,172.89 L235.5,173.92 L236,174.64 L236.5,175.13 L237,175.45 L237.5,175.64 L238,175.76 L238.5,175.83 L239,175.86 L239.5,175.88 L240,175.89 L240.5,175.9 L241,175.9 L241.5,175.9 L242,175.9 L242.5,175.9 L243,175.9 L243.5,175.9 L244,175.9 L244.5,175.9 L245,175.9 L245.5,175.9 L246,175.9 L246.5,175.9 L247,175.9 L247.5,175.9 L248,175.9 L248.5,175.9 L249,175.9 L249.5,175.9 L250,175.9 L250.5,175.9 L251,175.9 L251.5,175.9 L252,175.9 L252.5,175.9 L253,175.9 L253.5,175.9 L254,175.89 L254.5,175.89 L255,175.88 L255.5,175.87 L256,175.86 L256.5,175.83 L257,175.79 L257.5,175.73 L258,175.65 L258.5,175.52 L259,175.33 L259.5,175.07 L260,174.72 L260.5,174.23 L261,173.6 L261.5,172.77 L262,171.72 L262.5,170.42 L263,168.83 L263.5,166.94 L264,164.73 L264.5,162.23 L265,159.44 L265.5,156.44 L266,153.27 L266.5,150.04 L267,146.86 L267.5,143.85 L268,141.14 L268.5,138.84 L269,137.06 L269.5,135.9 L270,135.41 L270.5,135.6 L271,136.41 L271.5,137.81 L272,139.72 L272.5,142.07 L273,144.76 L273.5,147.68 L274,150.72 L274.5,153.78 L275,156.78 L275.5,159.62 L276,162.25 L276.5,164.64 L277,166.75 L277.5,168.58 L278,170.14 L278.5,171.43 L279,172.49 L279.5,173.34 L280,174.01 L280.5,174.52 L281,174.91 L281.5,175.2 L282,175.42 L282.5,175.57 L283,175.68 L283.5,175.75 L284,175.8 L284.5,175.84 L285,175.86 L285.5,175.88 L286,175.88 L286.5,175.89 L287,175.89 L287.5,175.9 L288,175.9 L288.5,175.9 L289,175.9 L289.5,175.9 L290,175.9 L290.5,175.9 L291,175.9 L291.5,175.9 L292,175.9 L292.5,175.9 L293,175.9 L293.5,175.9 L294,175.9 L294.5,175.9 L295,175.9 L295.5,175.9 L296,175.9 L296.5,175.9 L297,175.9 L297.5,175.9 L298,175.9 L298.5,175.9 L299,175.9 L299.5,175.9 L300,175.9 L300.5,175.9 L301,175.9 L301.5,175.9 L302,175.9 L302.5,175.9 L303,175.9 L303.5,175.9 L304,175.9 L304.5,175.9 L305,175.9 L305.5,175.9 L306,175.9 L306.5,175.9 L307,175.9 L307.5,175.9 L308,175.9 L308.5,175.9 L309,175.9 L309.5,175.9 L310,175.9 L310.5,175.9 L311,175.9 L311.5,175.9 L312,175.9 L312.5,175.9 L313,175.9 L313.5,175.9 L314,175.9 L314.5,175.9 L315,175.9 L315.5,175.9 L316,175.9 L316.5,175.9 L317,175.9 L317.5,175.9 L318,175.9 L318.5,175.9 L319,175.9 L319.5,175.9 L320,175.9 L320.5,175.9 L321,175.9 L321.5,175.9 L322,175.9 L322.5,175.9" fill="none" stroke="#22309e" stroke-width="1.6"/>
<path d="M192.5,176.56h0.01M193.5,173.64h0.01M194.5,176.1h0.01M195.5,174.22h0.01M196.5,178.96h0.01M197.5,173.51h0.01M198.5,176.19h0.01M199.5,176.86h0.01M200.5,176.6h0.01M201.5,174.49h0.01M202.5,176.16h0.01M203.5,176.45h0.01M204.5,174.16h0.01M205.5,175.46h0.01M206.5,172.83h0.01M207.5,175.17h0.01M208.5,173.33h0.01M209.5,174.31h0.01M210.5,174.28h0.01M211.5,173.72h0.01M212.5,175.58h0.01M213.5,172.25h0.01M214.5,174.48h0.01M215.5,172.13h0.01M216.5,171.04h0.01M217.5,168.15h0.01M218.5,165.62h0.01M219.5,163.49h0.01M220.5,165.18h0.01M221.5,162.99h0.01M222.5,163.04h0.01M223.5,168.49h0.01M224.5,169.43h0.01M225.5,165.05h0.01M226.5,164.26h0.01M227.5,157.91h0.01M228.5,152.48h0.01M229.5,149.33h0.01M230.5,149.61h0.01M231.5,154.54h0.01M232.5,161.79h0.01M233.5,165.44h0.01M234.5,170.9h0.01M235.5,173.72h0.01M236.5,175.3h0.01M237.5,176.22h0.01M238.5,176.07h0.01M239.5,174.13h0.01M240.5,174.91h0.01M241.5,177.37h0.01M242.5,175.35h0.01M243.5,176.19h0.01M244.5,174.96h0.01M245.5,175.47h0.01M246.5,174.84h0.01M247.5,173.87h0.01M248.5,174.81h0.01M249.5,176.68h0.01M250.5,176.23h0.01M251.5,175.17h0.01M252.5,175h0.01M253.5,176.22h0.01M254.5,175.15h0.01M255.5,175.51h0.01M256.5,174.39h0.01M257.5,174.3h0.01M258.5,174.57h0.01M259.5,172.85h0.01M260.5,173.35h0.01M261.5,171.71h0.01M262.5,169.99h0.01M263.5,165.74h0.01M264.5,159.46h0.01M265.5,153.76h0.01M266.5,150.38h0.01M267.5,141.54h0.01M268.5,134.79h0.01M269.5,137.93h0.01M270.5,136.2h0.01M271.5,137.45h0.01M272.5,143.5h0.01M273.5,147.84h0.01M274.5,153.79h0.01M275.5,158.53h0.01M276.5,165.48h0.01M277.5,167.06h0.01M278.5,170.12h0.01M279.5,172.4h0.01M280.5,170.13h0.01M281.5,174.72h0.01M282.5,174.4h0.01M283.5,173.16h0.01M284.5,177.39h0.01M285.5,174.09h0.01M286.5,174.95h0.01M287.5,175.42h0.01M288.5,173.88h0.01M289.5,176.89h0.01M290.5,175.44h0.01M291.5,173.19h0.01M292.5,176.35h0.01M293.5,175.49h0.01M294.5,173.65h0.01M295.5,175.32h0.01M296.5,176.98h0.01M297.5,176.05h0.01M298.5,176.58h0.01M299.5,176.46h0.01M300.5,177.02h0.01M301.5,176.14h0.01M302.5,175.04h0.01M303.5,174.99h0.01M304.5,178.42h0.01M305.5,173.84h0.01M306.5,175.02h0.01M307.5,173.81h0.01M308.5,176.23h0.01M309.5,175.68h0.01M310.5,175.14h0.01M311.5,175.82h0.01M312.5,176.9h0.01M313.5,174.86h0.01M314.5,174.15h0.01M315.5,174.23h0.01M316.5,175.04h0.01M317.5,172.4h0.01M318.5,174.96h0.01M319.5,176.14h0.01M320.5,174.45h0.01M321.5,178.67h0.01" fill="none" stroke="#111" stroke-width="2" stroke-linecap="round"/>
<rect x="189.2" y="16.7" width="141.8" height="165.5" fill="none" stroke="#000" stroke-width="1.6"/>
<line x1="328.52" y1="16.7" x2="328.52" y2="12.9" stroke="#000" stroke-width="1.3"/>
<line x1="328.52" y1="182.2" x2="328.52" y2="186" stroke="#000" stroke-width="1.3"/>
<line x1="321.3" y1="16.7" x2="321.3" y2="10.1" stroke="#000" stroke-width="1.3"/>
<line x1="321.3" y1="182.2" x2="321.3" y2="188.8" stroke="#000" stroke-width="1.3"/>
<text x="321.3" y="200.1" font-size="8.6" text-anchor="middle" fill="#000" stroke="#000" stroke-width="0.2" font-family="Liberation Sans, sans-serif" >525</text>
<line x1="314.08" y1="16.7" x2="314.08" y2="12.9" stroke="#000" stroke-width="1.3"/>
<line x1="314.08" y1="182.2" x2="314.08" y2="186" stroke="#000" stroke-width="1.3"/>
<line x1="306.86" y1="16.7" x2="306.86" y2="12.9" stroke="#000" stroke-width="1.3"/>
<line x1="306.86" y1="182.2" x2="306.86" y2="186" stroke="#000" stroke-width="1.3"/>
<line x1="299.64" y1="16.7" x2="299.64" y2="12.9" stroke="#000" stroke-width="1.3"/>
<line x1="299.64" y1="182.2" x2="299.64" y2="186" stroke="#000" stroke-width="1.3"/>
<line x1="292.42" y1="16.7" x2="292.42" y2="12.9" stroke="#000" stroke-width="1.3"/>
<line x1="292.42" y1="182.2" x2="292.42" y2="186" stroke="#000" stroke-width="1.3"/>
<line x1="285.2" y1="16.7" x2="285.2" y2="10.1" stroke="#000" stroke-width="1.3"/>
<line x1="285.2" y1="182.2" x2="285.2" y2="188.8" stroke="#000" stroke-width="1.3"/>
<text x="285.2" y="200.1" font-size="8.6" text-anchor="middle" fill="#000" stroke="#000" stroke-width="0.2" font-family="Liberation Sans, sans-serif" >530</text>
<line x1="277.98" y1="16.7" x2="277.98" y2="12.9" stroke="#000" stroke-width="1.3"/>
<line x1="277.98" y1="182.2" x2="277.98" y2="186" stroke="#000" stroke-width="1.3"/>
<line x1="270.76" y1="16.7" x2="270.76" y2="12.9" stroke="#000" stroke-width="1.3"/>
<line x1="270.76" y1="182.2" x2="270.76" y2="186" stroke="#000" stroke-width="1.3"/>
<line x1="263.54" y1="16.7" x2="263.54" y2="12.9" stroke="#000" stroke-width="1.3"/>
<line x1="263.54" y1="182.2" x2="263.54" y2="186" stroke="#000" stroke-width="1.3"/>
<line x1="256.32" y1="16.7" x2="256.32" y2="12.9" stroke="#000" stroke-width="1.3"/>
<line x1="256.32" y1="182.2" x2="256.32" y2="186" stroke="#000" stroke-width="1.3"/>
<line x1="249.1" y1="16.7" x2="249.1" y2="10.1" stroke="#000" stroke-width="1.3"/>
<line x1="249.1" y1="182.2" x2="249.1" y2="188.8" stroke="#000" stroke-width="1.3"/>
<text x="249.1" y="200.1" font-size="8.6" text-anchor="middle" fill="#000" stroke="#000" stroke-width="0.2" font-family="Liberation Sans, sans-serif" >535</text>
<line x1="241.88" y1="16.7" x2="241.88" y2="12.9" stroke="#000" stroke-width="1.3"/>
<line x1="241.88" y1="182.2" x2="241.88" y2="186" stroke="#000" stroke-width="1.3"/>
<line x1="234.66" y1="16.7" x2="234.66" y2="12.9" stroke="#000" stroke-width="1.3"/>
<line x1="234.66" y1="182.2" x2="234.66" y2="186" stroke="#000" stroke-width="1.3"/>
<line x1="227.44" y1="16.7" x2="227.44" y2="12.9" stroke="#000" stroke-width="1.3"/>
<line x1="227.44" y1="182.2" x2="227.44" y2="186" stroke="#000" stroke-width="1.3"/>
<line x1="220.22" y1="16.7" x2="220.22" y2="12.9" stroke="#000" stroke-width="1.3"/>
<line x1="220.22" y1="182.2" x2="220.22" y2="186" stroke="#000" stroke-width="1.3"/>
<line x1="213" y1="16.7" x2="213" y2="10.1" stroke="#000" stroke-width="1.3"/>
<line x1="213" y1="182.2" x2="213" y2="188.8" stroke="#000" stroke-width="1.3"/>
<text x="213" y="200.1" font-size="8.6" text-anchor="middle" fill="#000" stroke="#000" stroke-width="0.2" font-family="Liberation Sans, sans-serif" >540</text>
<line x1="205.78" y1="16.7" x2="205.78" y2="12.9" stroke="#000" stroke-width="1.3"/>
<line x1="205.78" y1="182.2" x2="205.78" y2="186" stroke="#000" stroke-width="1.3"/>
<line x1="198.56" y1="16.7" x2="198.56" y2="12.9" stroke="#000" stroke-width="1.3"/>
<line x1="198.56" y1="182.2" x2="198.56" y2="186" stroke="#000" stroke-width="1.3"/>
<line x1="191.34" y1="16.7" x2="191.34" y2="12.9" stroke="#000" stroke-width="1.3"/>
<line x1="191.34" y1="182.2" x2="191.34" y2="186" stroke="#000" stroke-width="1.3"/>
<line x1="225.7" y1="63" x2="225.7" y2="96" stroke="#111" stroke-width="1.5" stroke-dasharray="4.6 5.2"/>
<line x1="232.9" y1="56.5" x2="232.9" y2="96" stroke="#111" stroke-width="1.5" stroke-dasharray="4.6 5.2"/>
<line x1="286.5" y1="45" x2="286.5" y2="97.5" stroke="#111" stroke-width="1.5" stroke-dasharray="4.6 5.2"/>
<line x1="271" y1="87.2" x2="271" y2="90.5" stroke="#111" stroke-width="1.5" stroke-dasharray="4 0"/>
<line x1="269.8" y1="98" x2="269.8" y2="176" stroke="#111" stroke-width="1.5" stroke-dasharray="4.6 5.2"/>
<text x="33" y="28.1" font-size="10.8" text-anchor="start" fill="#000" stroke="#000" stroke-width="0.3" font-family="Liberation Sans, sans-serif" textLength="23.6" lengthAdjust="spacingAndGlyphs">O 1s</text>
<text x="81" y="28.1" font-size="10.8" text-anchor="start" fill="#000" stroke="#000" stroke-width="0.3" font-family="Liberation Sans, sans-serif" textLength="38.6" lengthAdjust="spacingAndGlyphs">Pt(111)</text>
<text x="190.6" y="28.3" font-size="10.8" text-anchor="start" fill="#000" stroke="#000" stroke-width="0.3" font-family="Liberation Sans, sans-serif" textLength="23.8" lengthAdjust="spacingAndGlyphs">O 1s</text>
<text x="243.6" y="28.1" font-size="10.8" text-anchor="start" fill="#000" stroke="#000" stroke-width="0.3" font-family="Liberation Sans, sans-serif" textLength="34.2" lengthAdjust="spacingAndGlyphs">Ir(111)</text>
<text x="63.2" y="26.8" font-size="8.4" stroke="#000" stroke-width="0.3" font-family="Liberation Sans, sans-serif">O<tspan font-size="6.2" dy="1.6" stroke-width="0.05">2a</tspan></text>
<text x="49.2" y="44.2" font-size="8.4" stroke="#000" stroke-width="0.3" font-family="Liberation Sans, sans-serif">O<tspan font-size="6.2" dy="1.8" stroke-width="0.05">2b</tspan></text>
<text x="77.2" y="62.3" font-size="8.4" stroke="#000" stroke-width="0.3" font-family="Liberation Sans, sans-serif">CO<tspan font-size="6.2" dy="1.8" stroke-width="0.05">2(g)</tspan></text>
<text x="121.6" y="51.8" font-size="8.4" stroke="#000" stroke-width="0.3" font-family="Liberation Sans, sans-serif">O<tspan font-size="6.2" dy="1.8" stroke-width="0.05">ad</tspan></text>
<text x="96.8" y="96.8" font-size="8.4" stroke="#000" stroke-width="0.3" font-family="Liberation Sans, sans-serif">CO<tspan font-size="6.2" dy="1.8" stroke-width="0.05">atop</tspan></text>
<text x="111" y="107.8" font-size="8.4" stroke="#000" stroke-width="0.3" font-family="Liberation Sans, sans-serif">CO<tspan font-size="6.2" dy="1.8" stroke-width="0.05">bridge</tspan></text>
<text x="225.6" y="48.8" font-size="8.4" stroke="#000" stroke-width="0.3" font-family="Liberation Sans, sans-serif">O<tspan font-size="6" dy="1.8" stroke-width="0.05">2a</tspan></text>
<text x="215.9" y="57.4" font-size="8.4" stroke="#000" stroke-width="0.3" font-family="Liberation Sans, sans-serif">O<tspan font-size="6" dy="1.8" stroke-width="0.05">2b</tspan></text>
<text x="281" y="34.2" font-size="8.4" stroke="#000" stroke-width="0.3" font-family="Liberation Sans, sans-serif">O<tspan font-size="6.2" dy="1.8" stroke-width="0.05">ad</tspan></text>
<text x="256" y="77.6" font-size="8.4" stroke="#000" stroke-width="0.3" font-family="Liberation Sans, sans-serif">CO<tspan font-size="6.2" dy="1.8" stroke-width="0.05">ad</tspan></text>
<text x="143.6" y="71.9" font-size="8.6" text-anchor="start" fill="#000" stroke="#000" stroke-width="0.3" font-family="Liberation Sans, sans-serif" >535 K</text>
<text x="143.6" y="121.5" font-size="8.6" text-anchor="start" fill="#000" stroke="#000" stroke-width="0.3" font-family="Liberation Sans, sans-serif" >500 K</text>
<text x="143.6" y="171.1" font-size="8.6" text-anchor="start" fill="#000" stroke="#000" stroke-width="0.3" font-family="Liberation Sans, sans-serif" >450 K</text>
<text x="302.2" y="89.6" font-size="8.6" text-anchor="start" fill="#000" stroke="#000" stroke-width="0.3" font-family="Liberation Sans, sans-serif" >575 K</text>
<text x="302.2" y="123.8" font-size="8.6" text-anchor="start" fill="#000" stroke="#000" stroke-width="0.3" font-family="Liberation Sans, sans-serif" >500 K</text>
<text x="302.2" y="169.1" font-size="8.6" text-anchor="start" fill="#000" stroke="#000" stroke-width="0.3" font-family="Liberation Sans, sans-serif" >400 K</text>
<text transform="translate(25.3,99.2) rotate(-90)" font-size="8.4" text-anchor="middle" stroke="#000" stroke-width="0.15" font-family="Liberation Sans, sans-serif">Intensity</text>
<text transform="translate(186.2,99.0) rotate(-90)" font-size="8.4" text-anchor="middle" stroke="#000" stroke-width="0.15" font-family="Liberation Sans, sans-serif">Intensity</text>
<text x="98.8" y="213.6" font-size="8.5" text-anchor="middle" fill="#000" stroke="#000" stroke-width="0.08" font-family="Liberation Sans, sans-serif" >Binding energy [eV]</text>
<text x="259.7" y="213.6" font-size="8.5" text-anchor="middle" fill="#000" stroke="#000" stroke-width="0.08" font-family="Liberation Sans, sans-serif" >Binding energy [eV]</text>
<text x="0.3" y="13.6" font-size="16.3" text-anchor="start" fill="#000" stroke="#000" stroke-width="0.1" font-family="Liberation Sans, sans-serif" >(a)</text>
<text x="168.6" y="14" font-size="16.3" text-anchor="start" fill="#000" stroke="#000" stroke-width="0.1" font-family="Liberation Sans, sans-serif" >(c)</text>
<text x="0.3" y="221.9" font-size="16.3" text-anchor="start" fill="#000" stroke="#000" stroke-width="0.1" font-family="Liberation Sans, sans-serif" >(b)</text>
<text x="168.6" y="221.9" font-size="16.3" text-anchor="start" fill="#000" stroke="#000" stroke-width="0.1" font-family="Liberation Sans, sans-serif" >(d)</text>
<rect x="46" y="215" width="66.6" height="14.6" fill="#4352bb"/>
<rect x="112.6" y="215" width="20.7" height="14.6" fill="#dd2a33"/>
<text x="67.5" y="222.5" font-size="8.2" text-anchor="start" fill="#c3c8f3" stroke="#c3c8f3" stroke-width="0.1" font-family="Liberation Sans, sans-serif" textLength="23.2" lengthAdjust="spacingAndGlyphs">CO/Pt</text>
<text x="114.6" y="222.5" font-size="8.2" text-anchor="start" fill="#f6c5c8" stroke="#f6c5c8" stroke-width="0.1" font-family="Liberation Sans, sans-serif" textLength="17.3" lengthAdjust="spacingAndGlyphs">O/Pt</text>
<line x1="112.9" y1="215" x2="112.9" y2="229" stroke="#e8e0f0" stroke-width="0.7"/>
<rect x="46.6" y="229.6" width="83.7" height="123.5" fill="none" stroke="#000" stroke-width="1.5"/>
<line x1="47.31" y1="353.1" x2="47.31" y2="356.1" stroke="#000" stroke-width="1"/>
<line x1="47.31" y1="229.6" x2="47.31" y2="226.6" stroke="#111" stroke-width="1"/>
<line x1="50.1" y1="353.1" x2="50.1" y2="359.1" stroke="#000" stroke-width="1"/>
<line x1="50.1" y1="229.6" x2="50.1" y2="223.6" stroke="#111" stroke-width="1"/>
<text x="50.4" y="371.6" font-size="8.6" text-anchor="middle" fill="#000" stroke="#000" stroke-width="0.2" font-family="Liberation Sans, sans-serif" >300</text>
<line x1="52.89" y1="353.1" x2="52.89" y2="356.1" stroke="#000" stroke-width="1"/>
<line x1="52.89" y1="229.6" x2="52.89" y2="226.6" stroke="#111" stroke-width="1"/>
<line x1="55.67" y1="353.1" x2="55.67" y2="356.1" stroke="#000" stroke-width="1"/>
<line x1="55.67" y1="229.6" x2="55.67" y2="226.6" stroke="#111" stroke-width="1"/>
<line x1="58.45" y1="353.1" x2="58.45" y2="356.1" stroke="#000" stroke-width="1"/>
<line x1="58.45" y1="229.6" x2="58.45" y2="226.6" stroke="#111" stroke-width="1"/>
<line x1="61.24" y1="353.1" x2="61.24" y2="356.1" stroke="#000" stroke-width="1"/>
<line x1="61.24" y1="229.6" x2="61.24" y2="226.6" stroke="#111" stroke-width="1"/>
<line x1="64.03" y1="353.1" x2="64.03" y2="357.4" stroke="#000" stroke-width="1"/>
<line x1="64.03" y1="229.6" x2="64.03" y2="225.3" stroke="#111" stroke-width="1"/>
<line x1="66.81" y1="353.1" x2="66.81" y2="356.1" stroke="#000" stroke-width="1"/>
<line x1="66.81" y1="229.6" x2="66.81" y2="226.6" stroke="#111" stroke-width="1"/>
<line x1="69.59" y1="353.1" x2="69.59" y2="356.1" stroke="#000" stroke-width="1"/>
<line x1="69.59" y1="229.6" x2="69.59" y2="226.6" stroke="#111" stroke-width="1"/>
<line x1="72.38" y1="353.1" x2="72.38" y2="356.1" stroke="#000" stroke-width="1"/>
<line x1="72.38" y1="229.6" x2="72.38" y2="226.6" stroke="#111" stroke-width="1"/>
<line x1="75.17" y1="353.1" x2="75.17" y2="356.1" stroke="#000" stroke-width="1"/>
<line x1="75.17" y1="229.6" x2="75.17" y2="226.6" stroke="#111" stroke-width="1"/>
<line x1="77.95" y1="353.1" x2="77.95" y2="359.1" stroke="#000" stroke-width="1"/>
<line x1="77.95" y1="229.6" x2="77.95" y2="223.6" stroke="#111" stroke-width="1"/>
<text x="78.25" y="371.6" font-size="8.6" text-anchor="middle" fill="#000" stroke="#000" stroke-width="0.2" font-family="Liberation Sans, sans-serif" >400</text>
<line x1="80.73" y1="353.1" x2="80.73" y2="356.1" stroke="#000" stroke-width="1"/>
<line x1="80.73" y1="229.6" x2="80.73" y2="226.6" stroke="#111" stroke-width="1"/>
<line x1="83.52" y1="353.1" x2="83.52" y2="356.1" stroke="#000" stroke-width="1"/>
<line x1="83.52" y1="229.6" x2="83.52" y2="226.6" stroke="#111" stroke-width="1"/>
<line x1="86.31" y1="353.1" x2="86.31" y2="356.1" stroke="#000" stroke-width="1"/>
<line x1="86.31" y1="229.6" x2="86.31" y2="226.6" stroke="#111" stroke-width="1"/>
<line x1="89.09" y1="353.1" x2="89.09" y2="356.1" stroke="#000" stroke-width="1"/>
<line x1="89.09" y1="229.6" x2="89.09" y2="226.6" stroke="#111" stroke-width="1"/>
<line x1="91.88" y1="353.1" x2="91.88" y2="357.4" stroke="#000" stroke-width="1"/>
<line x1="91.88" y1="229.6" x2="91.88" y2="225.3" stroke="#111" stroke-width="1"/>
<line x1="94.66" y1="353.1" x2="94.66" y2="356.1" stroke="#000" stroke-width="1"/>
<line x1="94.66" y1="229.6" x2="94.66" y2="226.6" stroke="#111" stroke-width="1"/>
<line x1="97.45" y1="353.1" x2="97.45" y2="356.1" stroke="#000" stroke-width="1"/>
<line x1="97.45" y1="229.6" x2="97.45" y2="226.6" stroke="#111" stroke-width="1"/>
<line x1="100.23" y1="353.1" x2="100.23" y2="356.1" stroke="#000" stroke-width="1"/>
<line x1="100.23" y1="229.6" x2="100.23" y2="226.6" stroke="#111" stroke-width="1"/>
<line x1="103.02" y1="353.1" x2="103.02" y2="356.1" stroke="#000" stroke-width="1"/>
<line x1="103.02" y1="229.6" x2="103.02" y2="226.6" stroke="#111" stroke-width="1"/>
<line x1="105.8" y1="353.1" x2="105.8" y2="359.1" stroke="#000" stroke-width="1"/>
<line x1="105.8" y1="229.6" x2="105.8" y2="223.6" stroke="#111" stroke-width="1"/>
<text x="106.1" y="371.6" font-size="8.6" text-anchor="middle" fill="#000" stroke="#000" stroke-width="0.2" font-family="Liberation Sans, sans-serif" >500</text>
<line x1="108.59" y1="353.1" x2="108.59" y2="356.1" stroke="#000" stroke-width="1"/>
<line x1="108.59" y1="229.6" x2="108.59" y2="226.6" stroke="#111" stroke-width="1"/>
<line x1="111.37" y1="353.1" x2="111.37" y2="356.1" stroke="#000" stroke-width="1"/>
<line x1="111.37" y1="229.6" x2="111.37" y2="226.6" stroke="#111" stroke-width="1"/>
<line x1="114.16" y1="353.1" x2="114.16" y2="356.1" stroke="#000" stroke-width="1"/>
<line x1="114.16" y1="229.6" x2="114.16" y2="226.6" stroke="#111" stroke-width="1"/>
<line x1="116.94" y1="353.1" x2="116.94" y2="356.1" stroke="#000" stroke-width="1"/>
<line x1="116.94" y1="229.6" x2="116.94" y2="226.6" stroke="#111" stroke-width="1"/>
<line x1="119.72" y1="353.1" x2="119.72" y2="357.4" stroke="#000" stroke-width="1"/>
<line x1="119.72" y1="229.6" x2="119.72" y2="225.3" stroke="#111" stroke-width="1"/>
<line x1="122.51" y1="353.1" x2="122.51" y2="356.1" stroke="#000" stroke-width="1"/>
<line x1="122.51" y1="229.6" x2="122.51" y2="226.6" stroke="#111" stroke-width="1"/>
<line x1="125.3" y1="353.1" x2="125.3" y2="356.1" stroke="#000" stroke-width="1"/>
<line x1="125.3" y1="229.6" x2="125.3" y2="226.6" stroke="#111" stroke-width="1"/>
<line x1="128.08" y1="353.1" x2="128.08" y2="356.1" stroke="#000" stroke-width="1"/>
<line x1="128.08" y1="229.6" x2="128.08" y2="226.6" stroke="#111" stroke-width="1"/>
<line x1="40.1" y1="350.2" x2="46.6" y2="350.2" stroke="#000" stroke-width="1.4"/>
<text x="36.4" y="353.3" font-size="8.6" text-anchor="end" fill="#000" stroke="#000" stroke-width="0.2" font-family="Liberation Sans, sans-serif" >0.0</text>
<line x1="43.1" y1="338.45" x2="46.6" y2="338.45" stroke="#000" stroke-width="1.4"/>
<line x1="40.1" y1="326.7" x2="46.6" y2="326.7" stroke="#000" stroke-width="1.4"/>
<text x="36.4" y="329.8" font-size="8.6" text-anchor="end" fill="#000" stroke="#000" stroke-width="0.2" font-family="Liberation Sans, sans-serif" >0.2</text>
<line x1="43.1" y1="314.95" x2="46.6" y2="314.95" stroke="#000" stroke-width="1.4"/>
<line x1="40.1" y1="303.2" x2="46.6" y2="303.2" stroke="#000" stroke-width="1.4"/>
<text x="36.4" y="306.3" font-size="8.6" text-anchor="end" fill="#000" stroke="#000" stroke-width="0.2" font-family="Liberation Sans, sans-serif" >0.4</text>
<line x1="43.1" y1="291.45" x2="46.6" y2="291.45" stroke="#000" stroke-width="1.4"/>
<line x1="40.1" y1="279.7" x2="46.6" y2="279.7" stroke="#000" stroke-width="1.4"/>
<text x="36.4" y="282.8" font-size="8.6" text-anchor="end" fill="#000" stroke="#000" stroke-width="0.2" font-family="Liberation Sans, sans-serif" >0.6</text>
<line x1="43.1" y1="267.95" x2="46.6" y2="267.95" stroke="#000" stroke-width="1.4"/>
<line x1="40.1" y1="256.2" x2="46.6" y2="256.2" stroke="#000" stroke-width="1.4"/>
<text x="36.4" y="259.3" font-size="8.6" text-anchor="end" fill="#000" stroke="#000" stroke-width="0.2" font-family="Liberation Sans, sans-serif" >0.8</text>
<line x1="43.1" y1="244.45" x2="46.6" y2="244.45" stroke="#000" stroke-width="1.4"/>
<line x1="40.1" y1="232.7" x2="46.6" y2="232.7" stroke="#000" stroke-width="1.4"/>
<text x="36.4" y="235.8" font-size="8.6" text-anchor="end" fill="#000" stroke="#000" stroke-width="0.2" font-family="Liberation Sans, sans-serif" >1.0</text>
<line x1="130.3" y1="238.9" x2="136.8" y2="238.9" stroke="#000" stroke-width="1.4"/>
<text x="160.2" y="242" font-size="8.6" text-anchor="end" fill="#000" stroke="#000" stroke-width="0.2" font-family="Liberation Sans, sans-serif" >0.00</text>
<line x1="130.3" y1="248.94" x2="133.8" y2="248.94" stroke="#000" stroke-width="1.4"/>
<line x1="130.3" y1="258.98" x2="136.8" y2="258.98" stroke="#000" stroke-width="1.4"/>
<text x="160.2" y="262.08" font-size="8.6" text-anchor="end" fill="#000" stroke="#000" stroke-width="0.2" font-family="Liberation Sans, sans-serif" >-0.05</text>
<line x1="130.3" y1="269.02" x2="133.8" y2="269.02" stroke="#000" stroke-width="1.4"/>
<line x1="130.3" y1="279.06" x2="136.8" y2="279.06" stroke="#000" stroke-width="1.4"/>
<text x="160.2" y="282.16" font-size="8.6" text-anchor="end" fill="#000" stroke="#000" stroke-width="0.2" font-family="Liberation Sans, sans-serif" >-0.10</text>
<line x1="130.3" y1="289.1" x2="133.8" y2="289.1" stroke="#000" stroke-width="1.4"/>
<line x1="130.3" y1="299.14" x2="136.8" y2="299.14" stroke="#000" stroke-width="1.4"/>
<text x="160.2" y="302.24" font-size="8.6" text-anchor="end" fill="#000" stroke="#000" stroke-width="0.2" font-family="Liberation Sans, sans-serif" >-0.15</text>
<line x1="130.3" y1="309.18" x2="133.8" y2="309.18" stroke="#000" stroke-width="1.4"/>
<line x1="130.3" y1="319.22" x2="136.8" y2="319.22" stroke="#000" stroke-width="1.4"/>
<text x="160.2" y="322.32" font-size="8.6" text-anchor="end" fill="#000" stroke="#000" stroke-width="0.2" font-family="Liberation Sans, sans-serif" >-0.20</text>
<line x1="130.3" y1="329.26" x2="133.8" y2="329.26" stroke="#000" stroke-width="1.4"/>
<line x1="130.3" y1="339.3" x2="136.8" y2="339.3" stroke="#000" stroke-width="1.4"/>
<text x="160.2" y="342.4" font-size="8.6" text-anchor="end" fill="#000" stroke="#000" stroke-width="0.2" font-family="Liberation Sans, sans-serif" >-0.25</text>
<line x1="130.3" y1="349.34" x2="133.8" y2="349.34" stroke="#000" stroke-width="1.4"/>
<path d="M91.6,232.8 L103.3,232.8 L105.7,232.8 L110.7,232.8" fill="none" stroke="#3f4db3" stroke-width="1.75" stroke-linejoin="round"/>
<path d="M91.6,230.2 l2.6,2.6 l-2.6,2.6 l-2.6,-2.6 Z" fill="#3f4db3"/>
<path d="M103.3,230.2 l2.6,2.6 l-2.6,2.6 l-2.6,-2.6 Z" fill="#3f4db3"/>
<path d="M105.7,230.2 l2.6,2.6 l-2.6,2.6 l-2.6,-2.6 Z" fill="#3f4db3"/>
<path d="M110.7,230.2 l2.6,2.6 l-2.6,2.6 l-2.6,-2.6 Z" fill="#3f4db3"/>
<path d="M91.7,349.8 L103.2,349.8 L105.1,349.8 L110.7,349.8 L115.7,232.6" fill="none" stroke="#dc2530" stroke-width="1.75" stroke-linejoin="round"/>
<path d="M91.7,347.2 l2.6,2.6 l-2.6,2.6 l-2.6,-2.6 Z" fill="#dc2530"/>
<path d="M103.2,347.2 l2.6,2.6 l-2.6,2.6 l-2.6,-2.6 Z" fill="#dc2530"/>
<path d="M105.1,347.2 l2.6,2.6 l-2.6,2.6 l-2.6,-2.6 Z" fill="#dc2530"/>
<path d="M110.7,347.2 l2.6,2.6 l-2.6,2.6 l-2.6,-2.6 Z" fill="#dc2530"/>
<path d="M115.7,230 l2.6,2.6 l-2.6,2.6 l-2.6,-2.6 Z" fill="#dc2530"/>
<path d="M91.6,238.5 L103.3,232.3 L105.7,250.4 L110.7,235.2 L115.6,350.6" fill="none" stroke="#eca524" stroke-width="1.75" stroke-linejoin="round"/>
<circle cx="91.6" cy="238.5" r="2.1" fill="#eca524"/>
<circle cx="103.3" cy="232.3" r="2.1" fill="#eca524"/>
<circle cx="105.7" cy="250.4" r="2.1" fill="#eca524"/>
<circle cx="110.7" cy="235.2" r="2.1" fill="#eca524"/>
<circle cx="115.6" cy="350.6" r="2.1" fill="#eca524"/>
<line x1="48.6" y1="275" x2="64.1" y2="275" stroke="#3f4db3" stroke-width="2.1"/>
<path d="M56.3,271.4 l3.6,3.6 l-3.6,3.6 l-3.6,-3.6 Z" fill="#3f4db3"/>
<text x="67.8" y="278" font-size="8.9" stroke="#000" stroke-width="0.12" font-family="Liberation Sans, sans-serif">CO<tspan font-size="6.15" dy="2" stroke-width="0">Surface</tspan></text>
<line x1="48.6" y1="286.2" x2="64.1" y2="286.2" stroke="#dc2530" stroke-width="2.1"/>
<path d="M56.3,282.6 l3.6,3.6 l-3.6,3.6 l-3.6,-3.6 Z" fill="#dc2530"/>
<text x="67.8" y="289.2" font-size="8.9" stroke="#000" stroke-width="0.12" font-family="Liberation Sans, sans-serif">O<tspan font-size="6.15" dy="2" stroke-width="0">Surface</tspan></text>
<line x1="48.6" y1="297.4" x2="64.1" y2="297.4" stroke="#eca524" stroke-width="2.1"/>
<circle cx="56.3" cy="297.4" r="3.0" fill="#eca524"/>
<text x="67.8" y="300.5" font-size="9" text-anchor="start" fill="#000" stroke="#000" stroke-width="0.1" font-family="Liberation Sans, sans-serif" >Φ-shift</text>
<text transform="translate(21,287.3) rotate(-90)" font-size="7.9" text-anchor="middle" stroke="#000" stroke-width="0.12" font-family="Liberation Sans, sans-serif">Surface signal ratio</text>
<text transform="translate(166.3,258) rotate(90)" font-size="7.9" text-anchor="start" stroke="#000" stroke-width="0.12" font-family="Liberation Sans, sans-serif">work function shift [eV]</text>
<line x1="167.2" y1="239.1" x2="167.2" y2="254.1" stroke="#eca524" stroke-width="1.9"/>
<circle cx="167.2" cy="246.6" r="3.1" fill="#eca524"/>
<text x="88.8" y="383.6" font-size="8.6" text-anchor="middle" fill="#000" stroke="#000" stroke-width="0.08" font-family="Liberation Sans, sans-serif" >Temperature [K]</text>
<rect x="207" y="215" width="97.6" height="14.6" fill="url(#gd)"/>
<text x="219.6" y="222.5" font-size="8.2" text-anchor="start" fill="#c3c8f3" stroke="#c3c8f3" stroke-width="0.1" font-family="Liberation Sans, sans-serif" textLength="22.5" lengthAdjust="spacingAndGlyphs">CO/Ir</text>
<text x="249" y="222.5" font-size="8.2" text-anchor="start" fill="#dccff3" stroke="#dccff3" stroke-width="0.1" font-family="Liberation Sans, sans-serif" textLength="35.3" lengthAdjust="spacingAndGlyphs">CO+O/Ir</text>
<text x="286.2" y="222.5" font-size="8.2" text-anchor="start" fill="#f6c5c8" stroke="#f6c5c8" stroke-width="0.1" font-family="Liberation Sans, sans-serif" textLength="16.0" lengthAdjust="spacingAndGlyphs">O/Ir</text>
<rect x="207.5" y="229.6" width="84" height="124" fill="none" stroke="#000" stroke-width="1.5"/>
<line x1="208.19" y1="353.6" x2="208.19" y2="356.6" stroke="#000" stroke-width="1"/>
<line x1="208.19" y1="229.6" x2="208.19" y2="226.6" stroke="#111" stroke-width="1"/>
<line x1="211" y1="353.6" x2="211" y2="359.6" stroke="#000" stroke-width="1"/>
<line x1="211" y1="229.6" x2="211" y2="223.6" stroke="#111" stroke-width="1"/>
<text x="211.3" y="371.6" font-size="8.6" text-anchor="middle" fill="#000" stroke="#000" stroke-width="0.2" font-family="Liberation Sans, sans-serif" >300</text>
<line x1="213.81" y1="353.6" x2="213.81" y2="356.6" stroke="#000" stroke-width="1"/>
<line x1="213.81" y1="229.6" x2="213.81" y2="226.6" stroke="#111" stroke-width="1"/>
<line x1="216.62" y1="353.6" x2="216.62" y2="356.6" stroke="#000" stroke-width="1"/>
<line x1="216.62" y1="229.6" x2="216.62" y2="226.6" stroke="#111" stroke-width="1"/>
<line x1="219.43" y1="353.6" x2="219.43" y2="356.6" stroke="#000" stroke-width="1"/>
<line x1="219.43" y1="229.6" x2="219.43" y2="226.6" stroke="#111" stroke-width="1"/>
<line x1="222.24" y1="353.6" x2="222.24" y2="356.6" stroke="#000" stroke-width="1"/>
<line x1="222.24" y1="229.6" x2="222.24" y2="226.6" stroke="#111" stroke-width="1"/>
<line x1="225.05" y1="353.6" x2="225.05" y2="357.9" stroke="#000" stroke-width="1"/>
<line x1="225.05" y1="229.6" x2="225.05" y2="225.3" stroke="#111" stroke-width="1"/>
<line x1="227.86" y1="353.6" x2="227.86" y2="356.6" stroke="#000" stroke-width="1"/>
<line x1="227.86" y1="229.6" x2="227.86" y2="226.6" stroke="#111" stroke-width="1"/>
<line x1="230.67" y1="353.6" x2="230.67" y2="356.6" stroke="#000" stroke-width="1"/>
<line x1="230.67" y1="229.6" x2="230.67" y2="226.6" stroke="#111" stroke-width="1"/>
<line x1="233.48" y1="353.6" x2="233.48" y2="356.6" stroke="#000" stroke-width="1"/>
<line x1="233.48" y1="229.6" x2="233.48" y2="226.6" stroke="#111" stroke-width="1"/>
<line x1="236.29" y1="353.6" x2="236.29" y2="356.6" stroke="#000" stroke-width="1"/>
<line x1="236.29" y1="229.6" x2="236.29" y2="226.6" stroke="#111" stroke-width="1"/>
<line x1="239.1" y1="353.6" x2="239.1" y2="359.6" stroke="#000" stroke-width="1"/>
<line x1="239.1" y1="229.6" x2="239.1" y2="223.6" stroke="#111" stroke-width="1"/>
<text x="239.4" y="371.6" font-size="8.6" text-anchor="middle" fill="#000" stroke="#000" stroke-width="0.2" font-family="Liberation Sans, sans-serif" >400</text>
<line x1="241.91" y1="353.6" x2="241.91" y2="356.6" stroke="#000" stroke-width="1"/>
<line x1="241.91" y1="229.6" x2="241.91" y2="226.6" stroke="#111" stroke-width="1"/>
<line x1="244.72" y1="353.6" x2="244.72" y2="356.6" stroke="#000" stroke-width="1"/>
<line x1="244.72" y1="229.6" x2="244.72" y2="226.6" stroke="#111" stroke-width="1"/>
<line x1="247.53" y1="353.6" x2="247.53" y2="356.6" stroke="#000" stroke-width="1"/>
<line x1="247.53" y1="229.6" x2="247.53" y2="226.6" stroke="#111" stroke-width="1"/>
<line x1="250.34" y1="353.6" x2="250.34" y2="356.6" stroke="#000" stroke-width="1"/>
<line x1="250.34" y1="229.6" x2="250.34" y2="226.6" stroke="#111" stroke-width="1"/>
<line x1="253.15" y1="353.6" x2="253.15" y2="357.9" stroke="#000" stroke-width="1"/>
<line x1="253.15" y1="229.6" x2="253.15" y2="225.3" stroke="#111" stroke-width="1"/>
<line x1="255.96" y1="353.6" x2="255.96" y2="356.6" stroke="#000" stroke-width="1"/>
<line x1="255.96" y1="229.6" x2="255.96" y2="226.6" stroke="#111" stroke-width="1"/>
<line x1="258.77" y1="353.6" x2="258.77" y2="356.6" stroke="#000" stroke-width="1"/>
<line x1="258.77" y1="229.6" x2="258.77" y2="226.6" stroke="#111" stroke-width="1"/>
<line x1="261.58" y1="353.6" x2="261.58" y2="356.6" stroke="#000" stroke-width="1"/>
<line x1="261.58" y1="229.6" x2="261.58" y2="226.6" stroke="#111" stroke-width="1"/>
<line x1="264.39" y1="353.6" x2="264.39" y2="356.6" stroke="#000" stroke-width="1"/>
<line x1="264.39" y1="229.6" x2="264.39" y2="226.6" stroke="#111" stroke-width="1"/>
<line x1="267.2" y1="353.6" x2="267.2" y2="359.6" stroke="#000" stroke-width="1"/>
<line x1="267.2" y1="229.6" x2="267.2" y2="223.6" stroke="#111" stroke-width="1"/>
<text x="267.5" y="371.6" font-size="8.6" text-anchor="middle" fill="#000" stroke="#000" stroke-width="0.2" font-family="Liberation Sans, sans-serif" >500</text>
<line x1="270.01" y1="353.6" x2="270.01" y2="356.6" stroke="#000" stroke-width="1"/>
<line x1="270.01" y1="229.6" x2="270.01" y2="226.6" stroke="#111" stroke-width="1"/>
<line x1="272.82" y1="353.6" x2="272.82" y2="356.6" stroke="#000" stroke-width="1"/>
<line x1="272.82" y1="229.6" x2="272.82" y2="226.6" stroke="#111" stroke-width="1"/>
<line x1="275.63" y1="353.6" x2="275.63" y2="356.6" stroke="#000" stroke-width="1"/>
<line x1="275.63" y1="229.6" x2="275.63" y2="226.6" stroke="#111" stroke-width="1"/>
<line x1="278.44" y1="353.6" x2="278.44" y2="356.6" stroke="#000" stroke-width="1"/>
<line x1="278.44" y1="229.6" x2="278.44" y2="226.6" stroke="#111" stroke-width="1"/>
<line x1="281.25" y1="353.6" x2="281.25" y2="357.9" stroke="#000" stroke-width="1"/>
<line x1="281.25" y1="229.6" x2="281.25" y2="225.3" stroke="#111" stroke-width="1"/>
<line x1="284.06" y1="353.6" x2="284.06" y2="356.6" stroke="#000" stroke-width="1"/>
<line x1="284.06" y1="229.6" x2="284.06" y2="226.6" stroke="#111" stroke-width="1"/>
<line x1="286.87" y1="353.6" x2="286.87" y2="356.6" stroke="#000" stroke-width="1"/>
<line x1="286.87" y1="229.6" x2="286.87" y2="226.6" stroke="#111" stroke-width="1"/>
<line x1="289.68" y1="353.6" x2="289.68" y2="356.6" stroke="#000" stroke-width="1"/>
<line x1="289.68" y1="229.6" x2="289.68" y2="226.6" stroke="#111" stroke-width="1"/>
<line x1="201" y1="350.2" x2="207.5" y2="350.2" stroke="#000" stroke-width="1.4"/>
<text x="197.3" y="353.3" font-size="8.6" text-anchor="end" fill="#000" stroke="#000" stroke-width="0.2" font-family="Liberation Sans, sans-serif" >0.0</text>
<line x1="204" y1="338.45" x2="207.5" y2="338.45" stroke="#000" stroke-width="1.4"/>
<line x1="201" y1="326.7" x2="207.5" y2="326.7" stroke="#000" stroke-width="1.4"/>
<text x="197.3" y="329.8" font-size="8.6" text-anchor="end" fill="#000" stroke="#000" stroke-width="0.2" font-family="Liberation Sans, sans-serif" >0.2</text>
<line x1="204" y1="314.95" x2="207.5" y2="314.95" stroke="#000" stroke-width="1.4"/>
<line x1="201" y1="303.2" x2="207.5" y2="303.2" stroke="#000" stroke-width="1.4"/>
<text x="197.3" y="306.3" font-size="8.6" text-anchor="end" fill="#000" stroke="#000" stroke-width="0.2" font-family="Liberation Sans, sans-serif" >0.4</text>
<line x1="204" y1="291.45" x2="207.5" y2="291.45" stroke="#000" stroke-width="1.4"/>
<line x1="201" y1="279.7" x2="207.5" y2="279.7" stroke="#000" stroke-width="1.4"/>
<text x="197.3" y="282.8" font-size="8.6" text-anchor="end" fill="#000" stroke="#000" stroke-width="0.2" font-family="Liberation Sans, sans-serif" >0.6</text>
<line x1="204" y1="267.95" x2="207.5" y2="267.95" stroke="#000" stroke-width="1.4"/>
<line x1="201" y1="256.2" x2="207.5" y2="256.2" stroke="#000" stroke-width="1.4"/>
<text x="197.3" y="259.3" font-size="8.6" text-anchor="end" fill="#000" stroke="#000" stroke-width="0.2" font-family="Liberation Sans, sans-serif" >0.8</text>
<line x1="204" y1="244.45" x2="207.5" y2="244.45" stroke="#000" stroke-width="1.4"/>
<line x1="201" y1="232.7" x2="207.5" y2="232.7" stroke="#000" stroke-width="1.4"/>
<text x="197.3" y="235.8" font-size="8.6" text-anchor="end" fill="#000" stroke="#000" stroke-width="0.2" font-family="Liberation Sans, sans-serif" >1.0</text>
<line x1="291.5" y1="239.9" x2="298" y2="239.9" stroke="#000" stroke-width="1.4"/>
<text x="316" y="243" font-size="8.6" text-anchor="end" fill="#000" stroke="#000" stroke-width="0.2" font-family="Liberation Sans, sans-serif" >0.0</text>
<line x1="291.5" y1="251.4" x2="295" y2="251.4" stroke="#000" stroke-width="1.4"/>
<line x1="291.5" y1="262.9" x2="298" y2="262.9" stroke="#000" stroke-width="1.4"/>
<text x="316" y="266" font-size="8.6" text-anchor="end" fill="#000" stroke="#000" stroke-width="0.2" font-family="Liberation Sans, sans-serif" >-0.1</text>
<line x1="291.5" y1="274.4" x2="295" y2="274.4" stroke="#000" stroke-width="1.4"/>
<line x1="291.5" y1="285.9" x2="298" y2="285.9" stroke="#000" stroke-width="1.4"/>
<text x="316" y="289" font-size="8.6" text-anchor="end" fill="#000" stroke="#000" stroke-width="0.2" font-family="Liberation Sans, sans-serif" >-0.2</text>
<line x1="291.5" y1="297.4" x2="295" y2="297.4" stroke="#000" stroke-width="1.4"/>
<line x1="291.5" y1="308.9" x2="298" y2="308.9" stroke="#000" stroke-width="1.4"/>
<text x="316" y="312" font-size="8.6" text-anchor="end" fill="#000" stroke="#000" stroke-width="0.2" font-family="Liberation Sans, sans-serif" >-0.3</text>
<line x1="291.5" y1="320.4" x2="295" y2="320.4" stroke="#000" stroke-width="1.4"/>
<line x1="291.5" y1="331.9" x2="298" y2="331.9" stroke="#000" stroke-width="1.4"/>
<text x="316" y="335" font-size="8.6" text-anchor="end" fill="#000" stroke="#000" stroke-width="0.2" font-family="Liberation Sans, sans-serif" >-0.4</text>
<line x1="291.5" y1="343.4" x2="295" y2="343.4" stroke="#000" stroke-width="1.4"/>
<path d="M211,233 L224.9,233 L239,233 L252.8,233 L259.9,239.2 L267.1,316.7 L273.4,337.6 L280.8,339.9 L288,343.6" fill="none" stroke="#3f4db3" stroke-width="1.75" stroke-linejoin="round"/>
<path d="M211,230.4 l2.6,2.6 l-2.6,2.6 l-2.6,-2.6 Z" fill="#3f4db3"/>
<path d="M224.9,230.4 l2.6,2.6 l-2.6,2.6 l-2.6,-2.6 Z" fill="#3f4db3"/>
<path d="M239,230.4 l2.6,2.6 l-2.6,2.6 l-2.6,-2.6 Z" fill="#3f4db3"/>
<path d="M252.8,230.4 l2.6,2.6 l-2.6,2.6 l-2.6,-2.6 Z" fill="#3f4db3"/>
<path d="M259.9,236.6 l2.6,2.6 l-2.6,2.6 l-2.6,-2.6 Z" fill="#3f4db3"/>
<path d="M267.1,314.1 l2.6,2.6 l-2.6,2.6 l-2.6,-2.6 Z" fill="#3f4db3"/>
<path d="M273.4,335 l2.6,2.6 l-2.6,2.6 l-2.6,-2.6 Z" fill="#3f4db3"/>
<path d="M280.8,337.3 l2.6,2.6 l-2.6,2.6 l-2.6,-2.6 Z" fill="#3f4db3"/>
<path d="M288,341 l2.6,2.6 l-2.6,2.6 l-2.6,-2.6 Z" fill="#3f4db3"/>
<path d="M211,350 L224.9,350 L239,350 L253.2,350 L259.6,343.1 L266.6,267.1 L274.1,245.6 L280.8,242.9 L288,239.9" fill="none" stroke="#dc2530" stroke-width="1.75" stroke-linejoin="round"/>
<path d="M211,347.4 l2.6,2.6 l-2.6,2.6 l-2.6,-2.6 Z" fill="#dc2530"/>
<path d="M224.9,347.4 l2.6,2.6 l-2.6,2.6 l-2.6,-2.6 Z" fill="#dc2530"/>
<path d="M239,347.4 l2.6,2.6 l-2.6,2.6 l-2.6,-2.6 Z" fill="#dc2530"/>
<path d="M253.2,347.4 l2.6,2.6 l-2.6,2.6 l-2.6,-2.6 Z" fill="#dc2530"/>
<path d="M259.6,340.5 l2.6,2.6 l-2.6,2.6 l-2.6,-2.6 Z" fill="#dc2530"/>
<path d="M266.6,264.5 l2.6,2.6 l-2.6,2.6 l-2.6,-2.6 Z" fill="#dc2530"/>
<path d="M274.1,243 l2.6,2.6 l-2.6,2.6 l-2.6,-2.6 Z" fill="#dc2530"/>
<path d="M280.8,240.3 l2.6,2.6 l-2.6,2.6 l-2.6,-2.6 Z" fill="#dc2530"/>
<path d="M288,237.3 l2.6,2.6 l-2.6,2.6 l-2.6,-2.6 Z" fill="#dc2530"/>
<path d="M211,240.2 L224.9,256 L239,232.7 L252.8,237.2 L259.9,241.1 L267.4,287.9 L273.4,337.6 L280.8,350.3 L288,341.3" fill="none" stroke="#eca524" stroke-width="1.75" stroke-linejoin="round"/>
<circle cx="211" cy="240.2" r="2.1" fill="#eca524"/>
<circle cx="224.9" cy="256" r="2.1" fill="#eca524"/>
<circle cx="239" cy="232.7" r="2.1" fill="#eca524"/>
<circle cx="252.8" cy="237.2" r="2.1" fill="#eca524"/>
<circle cx="259.9" cy="241.1" r="2.1" fill="#eca524"/>
<circle cx="267.4" cy="287.9" r="2.1" fill="#eca524"/>
<circle cx="273.4" cy="337.6" r="2.1" fill="#eca524"/>
<circle cx="280.8" cy="350.3" r="2.1" fill="#eca524"/>
<circle cx="288" cy="341.3" r="2.1" fill="#eca524"/>
<line x1="209.5" y1="276.2" x2="225" y2="276.2" stroke="#3f4db3" stroke-width="2.1"/>
<path d="M217.2,272.6 l3.6,3.6 l-3.6,3.6 l-3.6,-3.6 Z" fill="#3f4db3"/>
<text x="228.7" y="279.2" font-size="8.9" stroke="#000" stroke-width="0.12" font-family="Liberation Sans, sans-serif">CO<tspan font-size="6.15" dy="2" stroke-width="0">Surface</tspan></text>
<line x1="209.5" y1="287.4" x2="225" y2="287.4" stroke="#dc2530" stroke-width="2.1"/>
<path d="M217.2,283.8 l3.6,3.6 l-3.6,3.6 l-3.6,-3.6 Z" fill="#dc2530"/>
<text x="228.7" y="290.4" font-size="8.9" stroke="#000" stroke-width="0.12" font-family="Liberation Sans, sans-serif">O<tspan font-size="6.15" dy="2" stroke-width="0">Surface</tspan></text>
<line x1="209.5" y1="298.6" x2="225" y2="298.6" stroke="#eca524" stroke-width="2.1"/>
<circle cx="217.2" cy="298.6" r="3.0" fill="#eca524"/>
<text x="228.7" y="301.7" font-size="9" text-anchor="start" fill="#000" stroke="#000" stroke-width="0.1" font-family="Liberation Sans, sans-serif" >Φ-shift</text>
<text transform="translate(181,286) rotate(-90)" font-size="7.9" text-anchor="middle" stroke="#000" stroke-width="0.12" font-family="Liberation Sans, sans-serif">Surface signal ratio</text>
<text transform="translate(327,258) rotate(90)" font-size="7.9" text-anchor="start" stroke="#000" stroke-width="0.12" font-family="Liberation Sans, sans-serif">Work function shift [eV]</text>
<line x1="328.1" y1="239.9" x2="328.1" y2="254.9" stroke="#eca524" stroke-width="1.9"/>
<circle cx="328.1" cy="247.4" r="3.1" fill="#eca524"/>
<text x="249.7" y="383.6" font-size="8.6" text-anchor="middle" fill="#000" stroke="#000" stroke-width="0.08" font-family="Liberation Sans, sans-serif" >Temperature [K]</text>
</svg>
</body></html>
